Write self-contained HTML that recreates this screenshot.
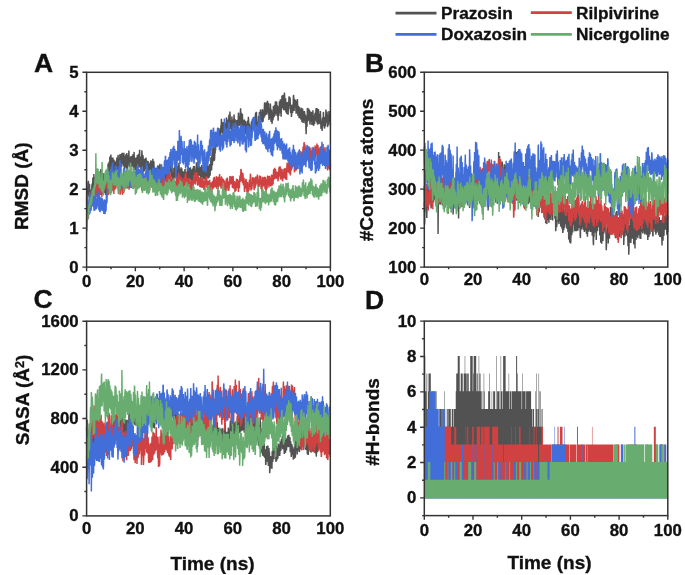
<!DOCTYPE html>
<html><head><meta charset="utf-8"><style>
html,body{margin:0;padding:0;background:#fff;width:685px;height:575px;overflow:hidden}
svg{display:block;filter:blur(0.4px)}
text{font-family:"Liberation Sans",sans-serif;font-weight:bold;fill:#111;stroke:#111;stroke-width:0.35px}
</style></head><body>
<svg width="685" height="575" viewBox="0 0 685 575">
<path transform="translate(86.60 0) scale(0.25005 0.1)" d="M0 1818l1 153 1 60 1 -122 1 -30 1 95 1 -17 1 -149 1 38 1 92 1 10 1 -108 1 9 1 119 1 14 1 -87 1 24 1 81 1 21 1 -90 1 44 1 -109 1 -30 1 120 1 -74 1 -106 1 17 1 117 1 -34 1 -135 1 63 1 132 1 2 1 -115 1 -47 1 164 1 -2 1 -82 1 -23 1 114 1 -10 1 -116 1 27 1 110 1 26 1 -131 1 17 1 93 1 -5 1 -89 1 37 1 -83 1 33 1 -103 1 -1 1 99 1 -1 1 -160 1 28 1 105 1 40 1 -137 1 77 1 134 1 6 1 -138 1 -48 1 119 1 15 1 -160 1 58 1 117 1 24 1 -85 1 -12 1 79 1 37 1 -129 1 -4 1 132 1 -69 1 -127 1 -9 1 89 1 -33 1 -115 1 -49 1 125 1 5 1 -129 1 -17 1 144 1 -99 1 -99 1 16 1 103 1 7 1 -146 1 38 1 169 1 -53 1 -119 1 -4 1 107 1 17 1 -125 1 37 1 68 1 34 1 -114 1 4 1 147 1 -2 1 -115 1 -15 1 142 1 -11 1 -115 1 -28 1 137 1 -53 1 -116 1 5 1 108 1 3 1 -116 1 -26 1 139 1 21 1 -117 1 -6 1 138 1 -56 1 -125 1 19 1 123 1 -43 1 -70 1 -32 1 106 1 23 1 -111 1 -29 1 100 1 10 1 -111 1 35 1 77 1 21 1 -134 1 51 1 93 1 30 1 -112 1 -29 1 114 1 -39 1 -93 1 13 1 101 1 29 1 -154 1 105 1 110 1 -62 1 -107 1 -27 1 96 1 -19 1 -122 1 64 1 90 1 9 1 -97 1 4 1 80 1 48 1 -127 1 -15 1 99 1 1 1 -71 1 -32 1 106 1 -22 1 -100 1 16 1 163 1 9 1 -165 1 -46 1 111 1 -57 1 127 1 -8 1 -113 1 29 1 74 1 26 1 -124 1 -9 1 141 1 -67 1 -100 1 17 1 69 1 -5 1 -84 1 -2 1 132 1 -42 1 -84 1 -53 1 135 1 40 1 -101 1 16 1 107 1 -6 1 -125 1 46 1 -106 1 58 1 93 1 12 1 -116 1 24 1 113 1 31 1 -130 1 27 1 98 1 -43 1 -76 1 -5 1 105 1 -17 1 -100 1 14 1 99 1 -5 1 -76 1 3 1 105 1 -6 1 -95 1 -6 1 93 1 54 1 -117 1 16 1 129 1 -12 1 -148 1 19 1 81 1 -21 1 -102 1 32 1 147 1 -59 1 -106 1 -6 1 94 1 22 1 -138 1 44 1 110 1 -43 1 -87 1 67 1 73 1 58 1 -132 1 32 1 87 1 -1 1 -118 1 66 1 122 1 -36 1 -103 1 -38 1 132 1 -37 1 -132 1 36 1 90 1 -10 1 -101 1 -10 1 60 1 35 1 -114 1 16 1 122 1 3 1 -80 1 11 1 75 1 17 1 -88 1 -16 1 114 1 -10 1 -120 1 23 1 94 1 -21 1 -101 1 25 1 106 1 -6 1 -101 1 -17 1 104 1 12 1 -127 1 8 1 103 1 -22 1 -102 1 17 1 117 1 9 1 -162 1 13 1 138 1 -12 1 -118 1 30 1 -85 1 12 1 107 1 -27 1 -100 1 1 1 92 1 -56 1 116 1 18 1 -106 1 24 1 96 1 16 1 -68 1 -1 1 78 1 -5 1 -126 1 8 1 93 1 -47 1 -60 1 -18 1 110 1 -5 1 -115 1 42 1 80 1 14 1 -85 1 -8 1 78 1 -22 1 -85 1 50 1 79 1 -40 1 -119 1 26 1 118 1 30 1 -104 1 -1 1 101 1 4 1 -114 1 -15 1 93 1 -8 1 -73 1 53 1 73 1 23 1 -97 1 -24 1 77 1 -11 1 -55 1 -5 1 83 1 -16 1 -93 1 2 1 115 1 13 1 -100 1 6 1 108 1 6 1 -84 1 33 1 -108 1 2 1 103 1 -31 1 -92 1 50 1 81 1 25 1 -141 1 11 1 95 1 -13 1 -101 1 42 1 79 1 8 1 -107 1 33 1 87 1 -16 1 -89 1 -24 1 136 1 -33 1 -108 1 -22 1 101 1 22 1 -122 1 28 1 78 1 17 1 -64 1 -12 1 81 1 -37 1 -128 1 43 1 95 1 -26 1 -112 1 24 1 89 1 25 1 -88 1 -43 1 115 1 10 1 -85 1 3 1 82 1 -1 1 -80 1 2 1 125 1 -38 1 -79 1 -35 1 119 1 8 1 -109 1 5 1 75 1 29 1 -84 1 17 1 85 1 -6 1 -119 1 -23 1 117 1 33 1 -148 1 10 1 122 1 -7 1 -94 1 -17 1 100 1 -1 1 -109 1 25 1 101 1 8 1 -124 1 -8 1 87 1 36 1 -98 1 -39 1 113 1 1 1 -100 1 50 1 -131 1 23 1 104 1 0 1 -130 1 -49 1 133 1 -84 1 -98 1 31 1 105 1 4 1 -140 1 42 1 92 1 -24 1 -88 1 40 1 -98 1 70 1 -148 1 -4 1 108 1 -2 1 -119 1 -21 1 86 1 3 1 -114 1 -18 1 119 1 0 1 -92 1 -5 1 134 1 6 1 -114 1 -44 1 138 1 -18 1 -147 1 41 1 -108 1 38 1 69 1 32 1 -96 1 -7 1 117 1 -9 1 -92 1 -18 1 98 1 2 1 -69 1 -17 1 103 1 2 1 -109 1 2 1 64 1 -18 1 -103 1 7 1 95 1 -36 1 80 1 -10 1 -82 1 -34 1 70 1 -15 1 -98 1 -4 1 86 1 24 1 -143 1 46 1 97 1 30 1 -86 1 28 1 72 1 34 1 -173 1 51 1 132 1 -8 1 -118 1 -26 1 121 1 -48 1 -78 1 -46 1 129 1 2 1 -84 1 13 1 87 1 17 1 -85 1 -17 1 163 1 -64 1 -105 1 39 1 90 1 10 1 -142 1 60 1 -124 1 -5 1 99 1 27 1 -67 1 -26 1 100 1 -12 1 -130 1 -37 1 104 1 51 1 -109 1 23 1 129 1 -19 1 -122 1 56 1 108 1 14 1 -81 1 -35 1 96 1 18 1 -120 1 22 1 70 1 42 1 -117 1 6 1 125 1 -4 1 -105 1 9 1 82 1 31 1 -129 1 -22 1 99 1 -7 1 -130 1 47 1 106 1 23 1 -107 1 17 1 102 1 15 1 -73 1 -23 1 58 1 -21 1 -88 1 -12 1 115 1 -26 1 -99 1 -12 1 96 1 -1 1 -99 1 -14 1 106 1 3 1 -87 1 -9 1 101 1 -25 1 -99 1 -35 1 118 1 -10 1 -117 1 58 1 91 1 46 1 -93 1 28 1 87 1 26 1 -137 1 -63 1 137 1 -54 1 -123 1 34 1 103 1 -33 1 -120 1 -8 1 105 1 8 1 -91 1 26 1 82 1 -34 1 -100 1 16 1 106 1 1 1 -103 1 -8 1 78 1 -38 1 -84 1 -36 1 140 1 -35 1 -84 1 -19 1 115 1 0 1 -119 1 25 1 101 1 -31 1 -104 1 -3 1 96 1 18 1 -93 1 12 1 151 1 4 1 -104 1 -12 1 99 1 -30 1 -116 1 55 1 105 1 23 1 -92 1 -31 1 124 1 19 1 -119 1 3 1 82 1 -21 1 -124 1 33 1 79 1 -7 1 -112 1 4 1 102 1 -55 1 -90 1 23 1 105 1 -29 1 -78 1 -18 1 104 1 39 1 -101 1 2 1 102 1 46 1 -131 1 -10 1 89 1 -37 1 -104 1 3 1 111 1 -44 1 -92 1 41 1 103 1 30 1 -120 1 23 1 -107 1 -6 1 79 1 45 1 -132 1 68 1 66 1 19 1 -115 1 55 1 -117 1 33 1 115 1 31 1 -107 1 -15 1 142 1 -28 1 -64 1 -12 1 121 1 -45 1 -75 1 13 1 75 1 39 1 -98 1 42 1 -106 1 -23 1 86 1 13 1 -88 1 11 1 110 1 35 1 -80 1 39 1 81 1 -19 1 -94 1 -11 1 80 1 -1 1 -68 1 24 1 -116 1 -17 1 129 1 33 1 -106 1 -17 1 86 1 -13 1 -58 1 11 1 83 1 42 1 -130 1 22 1 102 1 -6 1 -136 1 65 1 96 1 4 1 -97 1 18 1 84 1 21 1 -104 1 -8 1 107 1 7 1 -80 1 -10 1 103 1 -6 1 -108 1 1 1 132 1 5 1 -108 1 -27 1 109 1 36 1 -111 1 -8 1 98 1 -11 1 -87 1 21 1 87 1 15 1 -86 1 9 1 119 1 66 1 -140 1 -37 1 105 1 -58 1 -133 1 17 1 92 1 25 1 -107 1 -21 1 76 1 36 1 -99 1 23 1 124 1 -11 1 -104 1 -15 1 97 1 1 1 -90 1 4 1 124 1 -22 1 -74 1 34 1 -86 1 70 1 65 1 20 1 -88 1 -17 1 87 1 -6 1 -99 1 -5 1 77 1 -27 1 -74 1 -24 1 92 1 49 1 -133 1 -8 1 154 1 10 1 -86 1 66 1 -135 1 43 1 105 1 -6 1 -87 1 -3 1 86 1 7 1 -125 1 64 1 98 1 16 1 -85 1 14 1 56 1 36 1 -114 1 -19 1 86 1 -34 1 -110 1 48 1 75 1 -21 1 64 1 -7 1 -87 1 -19 1 92 1 -59 1 -109 1 45 1 85 1 -15 1 -96 1 19 1 112 1 25 1 -110 1 -8 1 98 1 -32 1 -100 1 -10 1 106 1 3 1 -82 1 30 1 89" stroke="#525252" stroke-width="1.45" vector-effect="non-scaling-stroke" fill="none" stroke-linejoin="bevel"/>
<path transform="translate(86.60 0) scale(0.25005 0.1)" d="M0 2015l1 100 1 29 1 -101 1 -8 1 90 1 -61 1 124 1 -64 1 -83 1 42 1 -99 1 59 1 -120 1 74 1 84 1 -4 1 -117 1 -7 1 120 1 -19 1 -104 1 -37 1 90 1 23 1 -123 1 32 1 129 1 -56 1 -118 1 -40 1 95 1 -21 1 -81 1 -8 1 105 1 -26 1 -97 1 -14 1 132 1 32 1 -107 1 -5 1 101 1 -28 1 -73 1 -8 1 71 1 18 1 -78 1 -17 1 90 1 24 1 -143 1 35 1 99 1 -4 1 -60 1 44 1 -105 1 23 1 125 1 -47 1 -99 1 34 1 91 1 -46 1 -73 1 -15 1 89 1 -17 1 -89 1 -16 1 111 1 -7 1 -71 1 -21 1 65 1 27 1 -63 1 -9 1 70 1 -20 1 68 1 5 1 -71 1 -10 1 97 1 -20 1 -78 1 -18 1 74 1 -42 1 -77 1 2 1 92 1 0 1 -64 1 34 1 -102 1 30 1 80 1 38 1 -86 1 7 1 79 1 9 1 -124 1 43 1 111 1 -70 1 -92 1 14 1 102 1 -4 1 -104 1 8 1 91 1 -32 1 -73 1 -29 1 74 1 21 1 -91 1 29 1 92 1 -8 1 61 1 8 1 -104 1 4 1 67 1 15 1 -81 1 -32 1 140 1 -59 1 -72 1 -1 1 69 1 21 1 -80 1 19 1 96 1 9 1 -84 1 -13 1 75 1 4 1 -94 1 -27 1 104 1 -25 1 -63 1 -22 1 78 1 -7 1 -97 1 12 1 86 1 -12 1 -71 1 2 1 87 1 -1 1 -72 1 13 1 -54 1 16 1 70 1 45 1 -97 1 5 1 71 1 -12 1 -53 1 -29 1 86 1 7 1 -103 1 3 1 91 1 -7 1 -67 1 -21 1 86 1 -20 1 -93 1 6 1 86 1 21 1 -100 1 43 1 70 1 7 1 -87 1 -28 1 81 1 -37 1 -42 1 16 1 71 1 10 1 -96 1 0 1 87 1 -54 1 -61 1 2 1 110 1 16 1 -95 1 18 1 75 1 -15 1 -85 1 27 1 73 1 -2 1 -63 1 10 1 98 1 -18 1 -75 1 -26 1 65 1 11 1 -73 1 -2 1 63 1 2 1 -81 1 -9 1 83 1 -8 1 -62 1 -18 1 85 1 4 1 -84 1 7 1 67 1 14 1 -66 1 -15 1 63 1 -28 1 -39 1 6 1 93 1 -34 1 71 1 3 1 -104 1 -25 1 80 1 -10 1 -93 1 3 1 87 1 -27 1 -78 1 35 1 62 1 0 1 -69 1 2 1 54 1 16 1 -63 1 1 1 65 1 10 1 -90 1 37 1 95 1 -5 1 -82 1 -3 1 87 1 -13 1 -80 1 -2 1 91 1 -31 1 -65 1 -13 1 58 1 -34 1 -58 1 -9 1 53 1 26 1 -95 1 34 1 86 1 -13 1 -56 1 -26 1 102 1 40 1 -97 1 30 1 69 1 -8 1 -82 1 -26 1 91 1 9 1 -118 1 28 1 58 1 31 1 -85 1 23 1 74 1 -34 1 -66 1 8 1 89 1 10 1 -110 1 -25 1 100 1 -9 1 -87 1 5 1 65 1 1 1 -81 1 -14 1 58 1 25 1 -101 1 24 1 87 1 21 1 -89 1 30 1 68 1 19 1 -82 1 7 1 61 1 12 1 -53 1 44 1 -92 1 33 1 59 1 44 1 -90 1 7 1 77 1 6 1 -77 1 -20 1 81 1 -39 1 -82 1 -5 1 52 1 33 1 -74 1 11 1 89 1 -45 1 -97 1 -11 1 104 1 11 1 -73 1 -17 1 89 1 -14 1 -59 1 5 1 78 1 -32 1 75 1 6 1 -110 1 10 1 89 1 39 1 -120 1 -16 1 116 1 6 1 -104 1 -31 1 78 1 -4 1 -65 1 -44 1 104 1 -25 1 -96 1 14 1 83 1 -36 1 80 1 -7 1 -72 1 12 1 71 1 -11 1 -67 1 -14 1 74 1 16 1 -58 1 -32 1 96 1 39 1 -104 1 3 1 103 1 -41 1 -56 1 -18 1 84 1 33 1 -121 1 5 1 68 1 24 1 -97 1 43 1 -89 1 13 1 61 1 1 1 -104 1 13 1 111 1 -27 1 -76 1 -10 1 76 1 -12 1 -77 1 36 1 67 1 35 1 -99 1 -6 1 95 1 2 1 -67 1 -14 1 67 1 -27 1 62 1 -26 1 -55 1 5 1 81 1 -20 1 -85 1 35 1 71 1 -10 1 -69 1 -17 1 92 1 -7 1 -53 1 -11 1 98 1 -32 1 -44 1 -16 1 88 1 -56 1 -64 1 13 1 64 1 -28 1 -59 1 2 1 110 1 -6 1 -66 1 17 1 80 1 -14 1 -82 1 12 1 62 1 28 1 -73 1 -39 1 106 1 -11 1 -59 1 -3 1 67 1 0 1 -75 1 28 1 75 1 -40 1 -50 1 -24 1 78 1 -5 1 -69 1 -38 1 92 1 0 1 -101 1 12 1 79 1 16 1 -71 1 9 1 57 1 -30 1 -77 1 9 1 117 1 -53 1 -62 1 7 1 64 1 47 1 -124 1 47 1 53 1 -37 1 -64 1 -26 1 109 1 1 1 -60 1 -8 1 89 1 15 1 -114 1 -7 1 69 1 27 1 -79 1 13 1 56 1 35 1 -97 1 34 1 54 1 19 1 -86 1 -7 1 86 1 30 1 -79 1 -17 1 87 1 -1 1 -125 1 14 1 57 1 21 1 -102 1 34 1 70 1 28 1 -77 1 -12 1 88 1 -34 1 -64 1 44 1 -93 1 28 1 58 1 -28 1 -50 1 3 1 48 1 23 1 -66 1 -11 1 117 1 -35 1 -64 1 -23 1 73 1 -22 1 63 1 15 1 -78 1 23 1 81 1 4 1 -69 1 -28 1 88 1 -27 1 -79 1 -16 1 66 1 30 1 -90 1 4 1 55 1 -51 1 118 1 -25 1 -58 1 -25 1 72 1 -62 1 -58 1 -8 1 61 1 -27 1 -99 1 5 1 80 1 38 1 -87 1 7 1 97 1 -4 1 -96 1 33 1 85 1 3 1 -75 1 29 1 98 1 16 1 -83 1 -30 1 73 1 6 1 -90 1 -5 1 73 1 -31 1 81 1 11 1 -73 1 -31 1 109 1 -12 1 -71 1 3 1 58 1 -22 1 -88 1 15 1 55 1 -47 1 -83 1 19 1 146 1 -1 1 -78 1 17 1 52 1 -38 1 -66 1 -18 1 55 1 17 1 -65 1 11 1 77 1 37 1 -119 1 11 1 84 1 1 1 -108 1 1 1 82 1 -23 1 -52 1 -12 1 67 1 -27 1 -62 1 22 1 73 1 26 1 -60 1 -7 1 65 1 6 1 -86 1 -28 1 62 1 28 1 -84 1 2 1 81 1 48 1 -96 1 13 1 112 1 -67 1 -85 1 9 1 74 1 13 1 -73 1 -19 1 85 1 -10 1 -80 1 3 1 98 1 22 1 -121 1 52 1 103 1 -18 1 -83 1 -33 1 99 1 -20 1 -97 1 -19 1 93 1 -5 1 -83 1 36 1 79 1 -46 1 -35 1 -37 1 95 1 2 1 -74 1 16 1 68 1 -24 1 -69 1 -25 1 78 1 34 1 -109 1 41 1 50 1 -3 1 -93 1 -50 1 105 1 -35 1 -62 1 -24 1 110 1 -32 1 -60 1 -3 1 76 1 19 1 -72 1 12 1 58 1 -11 1 -58 1 22 1 57 1 17 1 -79 1 31 1 -81 1 -13 1 96 1 -15 1 -83 1 -6 1 129 1 -3 1 -65 1 -38 1 89 1 19 1 -96 1 -6 1 111 1 9 1 -87 1 1 1 53 1 7 1 -98 1 13 1 83 1 -26 1 -78 1 13 1 68 1 33 1 -76 1 -33 1 87 1 27 1 -141 1 -33 1 96 1 -13 1 -72 1 6 1 84 1 -14 1 -83 1 -2 1 110 1 -17 1 -119 1 71 1 82 1 -46 1 -78 1 -3 1 78 1 -38 1 -70 1 -17 1 91 1 -47 1 -80 1 -3 1 126 1 -18 1 -58 1 22 1 105 1 4 1 -60 1 -25 1 71 1 -41 1 -80 1 9 1 109 1 -41 1 -95 1 13 1 66 1 -37 1 -80 1 13 1 72 1 19 1 -105 1 -16 1 70 1 7 1 -83 1 21 1 91 1 60 1 -129 1 12 1 122 1 -39 1 -101 1 -9 1 128 1 -76 1 -88 1 -35 1 87 1 7 1 -117 1 -22 1 109 1 8 1 -95 1 47 1 105 1 -8 1 -108 1 1 1 111 1 17 1 -120 1 -13 1 116 1 1 1 -83 1 -9 1 120 1 -56 1 -101 1 29 1 80 1 2 1 -84 1 -15 1 131 1 -16 1 -84 1 11 1 89 1 50 1 -147 1 -33 1 127 1 -11 1 -76 1 -15 1 98 1 -18 1 -90 1 -9 1 83 1 35 1 -104 1 -41 1 120 1 -39 1 -62 1 -6 1 80 1 -8 1 -103 1 37 1 100 1 -32 1 -89 1 21 1 91 1 16 1 -93 1 32 1 59 1 3 1 -108 1 7 1 90 1 1 1 -102 1 25 1 131 1 8 1 -62 1 -34 1 108 1 -71 1 -79 1 -56 1 148 1 33 1 -104 1 -23 1 112 1 -12 1 -121 1 14 1 120 1 0 1 -85 1 17 1 96 1 22 1 -94 1 8 1 133 1 -7 1 -101 1 -13 1 104 1 -20 1 -95 1 -31 1 119 1 43 1 -99 1 -26 1 98" stroke="#d04242" stroke-width="1.45" vector-effect="non-scaling-stroke" fill="none" stroke-linejoin="bevel"/>
<path transform="translate(86.60 0) scale(0.25005 0.1)" d="M0 1976l1 118 1 -41 1 -108 1 27 1 123 1 48 1 -112 1 -2 1 120 1 -18 1 -103 1 -70 1 179 1 -19 1 -160 1 -11 1 159 1 -7 1 -159 1 -36 1 145 1 -10 1 -100 1 3 1 120 1 -6 1 -85 1 -13 1 119 1 33 1 -144 1 -10 1 148 1 -61 1 -73 1 -34 1 137 1 22 1 -108 1 7 1 90 1 -20 1 -82 1 -75 1 151 1 -9 1 -135 1 22 1 166 1 -45 1 -109 1 36 1 137 1 -6 1 -83 1 -59 1 130 1 2 1 -95 1 -34 1 125 1 -10 1 -107 1 26 1 103 1 -22 1 -85 1 42 1 91 1 -14 1 -131 1 38 1 97 1 11 1 -127 1 -13 1 115 1 -21 1 -133 1 -30 1 103 1 -50 1 -98 1 36 1 -193 1 -9 1 119 1 31 1 -78 1 59 1 -142 1 27 1 101 1 0 1 -110 1 -22 1 102 1 -31 1 -84 1 -26 1 132 1 -12 1 -122 1 -39 1 122 1 32 1 -64 1 -10 1 106 1 21 1 -105 1 5 1 94 1 32 1 -197 1 90 1 53 1 3 1 -126 1 -21 1 122 1 -37 1 88 1 4 1 -128 1 44 1 67 1 0 1 -131 1 -22 1 145 1 -79 1 -133 1 16 1 85 1 14 1 -86 1 67 1 92 1 -61 1 133 1 5 1 -93 1 -8 1 114 1 -13 1 -74 1 57 1 -164 1 -2 1 131 1 21 1 -118 1 1 1 122 1 16 1 -92 1 -41 1 118 1 -19 1 -86 1 -45 1 107 1 45 1 -136 1 29 1 86 1 38 1 -101 1 17 1 91 1 18 1 -143 1 23 1 80 1 -7 1 -108 1 43 1 107 1 -22 1 -93 1 -33 1 128 1 8 1 -148 1 23 1 97 1 12 1 -134 1 33 1 80 1 -21 1 -82 1 -8 1 96 1 -8 1 -98 1 6 1 77 1 2 1 -100 1 -32 1 134 1 -46 1 -90 1 11 1 114 1 26 1 -100 1 -20 1 111 1 27 1 -123 1 -13 1 144 1 -29 1 -70 1 -43 1 100 1 10 1 -96 1 -42 1 192 1 -63 1 -83 1 1 1 90 1 -47 1 127 1 17 1 -93 1 46 1 -100 1 -23 1 90 1 -37 1 -76 1 54 1 -123 1 -12 1 111 1 31 1 -112 1 22 1 86 1 35 1 -91 1 14 1 108 1 -22 1 -74 1 -5 1 95 1 -29 1 -78 1 -19 1 152 1 -11 1 -115 1 -3 1 107 1 -6 1 -83 1 -61 1 157 1 -41 1 -69 1 -39 1 104 1 -6 1 -120 1 46 1 82 1 32 1 -92 1 10 1 83 1 -35 1 -107 1 -3 1 114 1 25 1 -156 1 36 1 110 1 -1 1 -117 1 36 1 78 1 -4 1 -113 1 47 1 123 1 -22 1 -102 1 -34 1 89 1 9 1 -115 1 -42 1 110 1 15 1 -79 1 -21 1 121 1 -26 1 -81 1 0 1 149 1 -63 1 -143 1 -20 1 143 1 -36 1 -147 1 -5 1 159 1 24 1 -90 1 -53 1 153 1 -4 1 -98 1 57 1 -115 1 39 1 105 1 -4 1 -162 1 22 1 142 1 -10 1 -176 1 -27 1 121 1 18 1 -170 1 9 1 111 1 78 1 -167 1 -2 1 159 1 -62 1 -140 1 19 1 101 1 4 1 -142 1 36 1 140 1 20 1 -164 1 34 1 158 1 -99 1 202 1 -63 1 -184 1 -31 1 188 1 -75 1 -105 1 95 1 -202 1 28 1 155 1 -16 1 -105 1 136 1 -306 1 130 1 208 1 -4 1 -148 1 58 1 -136 1 -50 1 150 1 42 1 -141 1 25 1 193 1 -12 1 -131 1 49 1 111 1 -12 1 -121 1 -101 1 207 1 -13 1 -123 1 9 1 148 1 47 1 -201 1 35 1 149 1 -69 1 -137 1 55 1 109 1 -76 1 155 1 -14 1 -140 1 -98 1 200 1 -74 1 -182 1 56 1 163 1 -23 1 -152 1 -50 1 153 1 9 1 -149 1 102 1 115 1 -31 1 -143 1 6 1 124 1 -12 1 -117 1 23 1 165 1 -15 1 -211 1 9 1 172 1 -33 1 -134 1 16 1 140 1 -12 1 -108 1 4 1 118 1 18 1 -146 1 -108 1 322 1 -74 1 -152 1 73 1 163 1 -52 1 -85 1 -37 1 104 1 30 1 -165 1 -66 1 139 1 5 1 -145 1 46 1 109 1 53 1 -165 1 89 1 96 1 79 1 -199 1 -4 1 189 1 -36 1 -134 1 -37 1 210 1 10 1 -137 1 15 1 136 1 -26 1 -177 1 36 1 98 1 -21 1 -123 1 12 1 122 1 -29 1 -163 1 67 1 90 1 -41 1 -114 1 -61 1 132 1 32 1 -177 1 -84 1 203 1 16 1 -179 1 -44 1 160 1 9 1 -142 1 35 1 118 1 -37 1 -156 1 -4 1 143 1 58 1 -156 1 49 1 113 1 -36 1 -114 1 -19 1 112 1 -5 1 -84 1 -15 1 81 1 67 1 -165 1 -28 1 146 1 38 1 -168 1 31 1 107 1 -48 1 116 1 -13 1 -133 1 4 1 158 1 -75 1 -89 1 -6 1 100 1 14 1 -115 1 3 1 155 1 -24 1 -124 1 -25 1 154 1 -29 1 -147 1 68 1 -191 1 66 1 158 1 -7 1 -115 1 -10 1 115 1 53 1 -140 1 43 1 127 1 -53 1 -114 1 -25 1 136 1 -43 1 -95 1 -65 1 165 1 -3 1 -149 1 79 1 116 1 39 1 -155 1 3 1 127 1 12 1 -113 1 -38 1 107 1 -11 1 -120 1 -7 1 142 1 -8 1 -171 1 67 1 97 1 35 1 -140 1 32 1 85 1 3 1 -187 1 22 1 128 1 -11 1 -108 1 53 1 99 1 6 1 -103 1 -24 1 149 1 -19 1 -145 1 2 1 99 1 22 1 -110 1 36 1 144 1 -36 1 -130 1 -45 1 134 1 16 1 -91 1 -31 1 114 1 50 1 -192 1 47 1 146 1 -20 1 -151 1 -9 1 153 1 -27 1 -98 1 -39 1 167 1 -68 1 143 1 9 1 -142 1 46 1 115 1 -70 1 -152 1 -48 1 131 1 -5 1 -102 1 -23 1 131 1 87 1 -204 1 25 1 115 1 -18 1 -100 1 -23 1 182 1 9 1 -155 1 28 1 121 1 -75 1 -78 1 77 1 -175 1 -14 1 130 1 -20 1 -119 1 -8 1 105 1 23 1 -135 1 41 1 178 1 25 1 -90 1 -25 1 101 1 0 1 -134 1 1 1 128 1 -11 1 -113 1 35 1 92 1 -38 1 -130 1 6 1 120 1 -37 1 -130 1 -50 1 173 1 31 1 -92 1 -48 1 142 1 34 1 -138 1 65 1 106 1 15 1 -131 1 13 1 138 1 -19 1 -135 1 57 1 94 1 -3 1 -119 1 -4 1 119 1 31 1 -110 1 -5 1 143 1 -33 1 -130 1 54 1 94 1 22 1 -121 1 -4 1 150 1 -67 1 -113 1 16 1 127 1 -30 1 -118 1 -31 1 142 1 -57 1 133 1 -16 1 -97 1 -22 1 162 1 -68 1 -104 1 32 1 133 1 19 1 -130 1 -69 1 142 1 -12 1 -141 1 -20 1 105 1 -18 1 -107 1 -9 1 115 1 5 1 -152 1 47 1 84 1 52 1 -155 1 67 1 133 1 -42 1 -116 1 -32 1 166 1 -59 1 -102 1 23 1 93 1 -49 1 100 1 25 1 -87 1 -31 1 96 1 4 1 -98 1 -9 1 121 1 32 1 -106 1 -20 1 164 1 21 1 -159 1 28 1 131 1 -43 1 -118 1 37 1 122 1 -16 1 -127 1 50 1 96 1 -3 1 -118 1 -40 1 142 1 5 1 -76 1 -9 1 118 1 -20 1 -94 1 -14 1 149 1 -52 1 -95 1 -16 1 117 1 60 1 -132 1 30 1 98 1 23 1 -122 1 32 1 109 1 -47 1 -147 1 31 1 98 1 -24 1 -151 1 53 1 132 1 -53 1 -86 1 36 1 160 1 -59 1 -113 1 29 1 84 1 38 1 -93 1 -25 1 129 1 3 1 -158 1 32 1 132 1 -5 1 -123 1 -53 1 135 1 -2 1 -149 1 62 1 190 1 -35 1 -122 1 -28 1 159 1 -17 1 -186 1 37 1 124 1 58 1 -177 1 11 1 96 1 -65 1 -85 1 43 1 94 1 -16 1 -136 1 16 1 138 1 -43 1 -86 1 -37 1 185 1 -54 1 -71 1 59 1 -149 1 -6 1 110 1 -4 1 -81 1 -14 1 127 1 -73 1 150 1 16 1 -128 1 20 1 87 1 26 1 -96 1 4 1 114 1 -16 1 -100 1 15 1 92 1 1 1 -144 1 42 1 -88 1 -43 1 112 1 28 1 -119 1 0 1 112 1 45 1 -99 1 68 1 120 1 -7 1 -95 1 -16 1 96 1 -21 1 -107 1 -31 1 133 1 -21 1 -115 1 -9 1 94 1 73 1 -152 1 41 1 84 1 6 1 -137 1 -23 1 114 1 -53 1 -123 1 0 1 66 1 31 1 -145 1 70 1 121 1 51 1 -123 1 -31 1 142 1 -18 1 -107 1 -10 1 120 1 27 1 -109 1 -36 1 165 1 9 1 -123 1 -45 1 145 1 -16 1 -164 1 -19 1 113 1 82 1 -187 1 -27 1 142 1 64 1 -155 1 24 1 124 1 -10 1 -143 1 73 1 94" stroke="#416ed9" stroke-width="1.45" vector-effect="non-scaling-stroke" fill="none" stroke-linejoin="bevel"/>
<path transform="translate(86.60 0) scale(0.25005 0.1)" d="M0 2195l1 117 1 -77 1 -66 1 -19 1 48 1 -43 1 -67 1 -32 1 89 1 -60 1 -51 1 -13 1 58 1 -12 1 -80 1 -15 1 79 1 0 1 -75 1 -31 1 78 1 -39 1 -66 1 -23 1 68 1 -12 1 -68 1 -2 1 70 1 -20 1 -72 1 38 1 -89 1 -21 1 83 1 -16 1 -321 1 235 1 55 1 11 1 -126 1 -25 1 98 1 41 1 -111 1 -24 1 121 1 37 1 -115 1 -19 1 167 1 -17 1 -141 1 31 1 137 1 -12 1 -98 1 -7 1 134 1 0 1 -154 1 -132 1 286 1 20 1 -121 1 17 1 134 1 -51 1 -65 1 55 1 -118 1 -39 1 123 1 -13 1 -130 1 -11 1 130 1 -24 1 -119 1 9 1 114 1 -15 1 -109 1 -21 1 101 1 -58 1 174 1 -31 1 -105 1 45 1 140 1 -5 1 -122 1 22 1 60 1 61 1 -146 1 -9 1 133 1 -20 1 -116 1 48 1 -110 1 -11 1 84 1 12 1 -76 1 8 1 102 1 -15 1 -86 1 -20 1 127 1 -23 1 -127 1 22 1 116 1 0 1 -111 1 -29 1 124 1 33 1 -92 1 6 1 103 1 10 1 -113 1 14 1 111 1 42 1 -117 1 -43 1 88 1 27 1 -110 1 -48 1 115 1 -31 1 -95 1 -33 1 139 1 5 1 -85 1 -21 1 116 1 15 1 -107 1 22 1 137 1 -30 1 -127 1 -44 1 129 1 11 1 -154 1 87 1 100 1 -12 1 -125 1 -42 1 101 1 1 1 -117 1 -9 1 174 1 4 1 -119 1 -44 1 120 1 -14 1 -97 1 -15 1 107 1 -13 1 -162 1 4 1 99 1 -61 1 165 1 19 1 -139 1 3 1 141 1 30 1 -141 1 39 1 106 1 -80 1 -138 1 64 1 104 1 -3 1 -106 1 40 1 173 1 -37 1 -141 1 36 1 127 1 -20 1 -80 1 63 1 -144 1 2 1 139 1 -49 1 -99 1 0 1 141 1 -28 1 -67 1 -54 1 140 1 -26 1 -80 1 -36 1 120 1 -16 1 -85 1 28 1 97 1 -51 1 104 1 -14 1 -117 1 -16 1 108 1 15 1 -119 1 3 1 90 1 28 1 -130 1 12 1 107 1 -38 1 -86 1 19 1 89 1 52 1 -116 1 -6 1 111 1 1 1 -92 1 12 1 101 1 -28 1 -118 1 9 1 121 1 -43 1 -150 1 -38 1 110 1 44 1 -103 1 53 1 77 1 -11 1 -118 1 9 1 79 1 -31 1 119 1 -49 1 -89 1 11 1 119 1 3 1 -89 1 -30 1 112 1 -48 1 95 1 -8 1 -109 1 -20 1 104 1 16 1 -91 1 3 1 94 1 6 1 -90 1 -44 1 90 1 -1 1 -118 1 0 1 112 1 -2 1 -66 1 -8 1 115 1 -25 1 -76 1 -10 1 106 1 25 1 -110 1 33 1 85 1 1 1 -107 1 16 1 92 1 26 1 -89 1 33 1 -84 1 -3 1 79 1 -48 1 -75 1 52 1 73 1 1 1 -112 1 16 1 108 1 0 1 -130 1 4 1 108 1 -23 1 -70 1 28 1 -67 1 -12 1 98 1 4 1 -83 1 26 1 60 1 16 1 -71 1 -10 1 66 1 38 1 -103 1 -13 1 100 1 3 1 -118 1 -8 1 117 1 -4 1 -115 1 7 1 88 1 36 1 -95 1 3 1 101 1 25 1 -84 1 28 1 109 1 -30 1 -110 1 22 1 118 1 -54 1 -96 1 8 1 60 1 35 1 -126 1 11 1 80 1 -6 1 -93 1 -30 1 144 1 -56 1 -74 1 37 1 52 1 26 1 -109 1 29 1 128 1 -27 1 -86 1 6 1 80 1 16 1 -99 1 34 1 82 1 -15 1 -102 1 23 1 77 1 -4 1 -109 1 -25 1 90 1 1 1 -100 1 60 1 152 1 -36 1 -81 1 -21 1 83 1 30 1 -165 1 38 1 109 1 19 1 -100 1 -19 1 64 1 28 1 -80 1 22 1 74 1 12 1 -95 1 4 1 92 1 -47 1 -76 1 -33 1 107 1 33 1 -126 1 79 1 71 1 -2 1 -121 1 30 1 91 1 -12 1 -65 1 -37 1 92 1 8 1 -107 1 5 1 91 1 -27 1 -69 1 16 1 106 1 -35 1 -78 1 22 1 78 1 18 1 -118 1 -4 1 104 1 25 1 -106 1 0 1 99 1 15 1 -121 1 18 1 94 1 21 1 -120 1 -6 1 98 1 -7 1 -80 1 12 1 68 1 -4 1 -119 1 -7 1 129 1 -35 1 -90 1 34 1 80 1 11 1 -85 1 45 1 87 1 -9 1 -158 1 -37 1 119 1 -30 1 -92 1 6 1 111 1 27 1 -92 1 15 1 90 1 12 1 -88 1 37 1 -93 1 17 1 104 1 37 1 -107 1 7 1 105 1 24 1 -102 1 -13 1 79 1 10 1 -79 1 31 1 124 1 -34 1 -74 1 -39 1 96 1 -13 1 -78 1 -7 1 66 1 -14 1 -80 1 24 1 -93 1 54 1 86 1 -27 1 -82 1 20 1 106 1 -35 1 71 1 -20 1 -93 1 23 1 71 1 14 1 -87 1 -9 1 102 1 -30 1 -107 1 -43 1 108 1 -25 1 -138 1 90 1 61 1 0 1 -69 1 -10 1 88 1 -50 1 112 1 -19 1 -116 1 24 1 74 1 10 1 -70 1 18 1 93 1 -35 1 -76 1 8 1 76 1 -4 1 -85 1 13 1 75 1 21 1 -63 1 -54 1 153 1 -29 1 -80 1 -32 1 118 1 -5 1 -97 1 -1 1 125 1 -58 1 -71 1 -35 1 108 1 3 1 -117 1 50 1 88 1 12 1 -120 1 53 1 72 1 23 1 -82 1 -5 1 93 1 -30 1 -98 1 -18 1 131 1 -21 1 -81 1 -11 1 84 1 15 1 -85 1 -35 1 94 1 26 1 -116 1 38 1 56 1 27 1 -80 1 7 1 51 1 19 1 -87 1 22 1 71 1 28 1 -134 1 29 1 114 1 -39 1 -77 1 -11 1 77 1 37 1 -96 1 -3 1 79 1 22 1 -123 1 -24 1 67 1 -10 1 -95 1 10 1 106 1 -10 1 -80 1 -22 1 109 1 18 1 -119 1 -6 1 95 1 -18 1 -66 1 11 1 105 1 1 1 -115 1 8 1 119 1 -7 1 -75 1 -39 1 95 1 -11 1 -73 1 7 1 55 1 2 1 -99 1 -5 1 103 1 -11 1 -76 1 -2 1 101 1 35 1 -79 1 -26 1 96 1 -13 1 -69 1 -59 1 146 1 -86 1 -80 1 -37 1 97 1 -38 1 91 1 -21 1 98 1 -14 1 -96 1 55 1 67 1 3 1 -125 1 1 1 95 1 -51 1 -85 1 -49 1 134 1 -21 1 -101 1 -7 1 102 1 23 1 -87 1 -12 1 87 1 15 1 -114 1 27 1 104 1 -51 1 -85 1 4 1 118 1 -12 1 -77 1 2 1 77 1 -2 1 -75 1 13 1 70 1 31 1 -96 1 -3 1 67 1 3 1 -86 1 1 1 76 1 -14 1 -94 1 -19 1 127 1 -46 1 -95 1 9 1 88 1 13 1 -74 1 14 1 97 1 -27 1 -91 1 57 1 64 1 28 1 -96 1 -40 1 139 1 -19 1 -83 1 -27 1 91 1 5 1 -98 1 -9 1 89 1 13 1 -107 1 -22 1 67 1 24 1 -94 1 -34 1 103 1 8 1 -76 1 -26 1 76 1 35 1 -136 1 43 1 91 1 -19 1 -85 1 -3 1 83 1 -3 1 -84 1 -21 1 131 1 9 1 -112 1 28 1 108 1 21 1 -91 1 -27 1 65 1 -22 1 -112 1 -4 1 115 1 -16 1 -91 1 -5 1 71 1 13 1 -83 1 -10 1 116 1 20 1 -80 1 9 1 72 1 14 1 -69 1 -10 1 74 1 43 1 -98 1 -23 1 95 1 -6 1 -89 1 -9 1 73 1 22 1 -119 1 -9 1 105 1 -35 1 80 1 10 1 -83 1 -19 1 66 1 -22 1 -100 1 10 1 95 1 21 1 -112 1 12 1 92 1 -18 1 -78 1 -1 1 110 1 -33 1 -74 1 -23 1 89 1 22 1 -104 1 -5 1 108 1 -12 1 -71 1 -2 1 85 1 1 1 -72 1 -4 1 64 1 -30 1 -97 1 -1 1 93 1 -9 1 -115 1 74 1 51 1 45 1 -116 1 6 1 87 1 49 1 -109 1 -60 1 141 1 0 1 -73 1 8 1 87 1 -29 1 -75 1 -20 1 66 1 24 1 -96 1 -21 1 94 1 0 1 -112 1 72 1 53 1 -16 1 -63 1 6 1 -86 1 26 1 83 1 16 1 -110 1 58 1 98 1 -18 1 -76 1 -3 1 94 1 22 1 -74 1 -26 1 104 1 -16 1 -97 1 8 1 81 1 -12 1 -103 1 56 1 81 1 -8 1 -91 1 -5 1 99 1 -2 1 -79 1 7 1 65 1 38 1 -96 1 -20 1 65 1 21 1 -107 1 -9 1 91 1 15 1 -103 1 -22 1 85 1 45 1 -117 1 -2 1 74 1 13 1 -104 1 -29 1 99 1 -4 1 -53 1 -18 1 104 1 -25 1 -95 1 28 1 93 1 -12 1 -75 1 6 1 87 1 8 1 -76 1 62 1 -132 1 0 1 73 1 -18 1 -83 1 10 1 87 1 19 1 -108 1 57 1 82 1 14 1 -74" stroke="#69ac6f" stroke-width="1.45" vector-effect="non-scaling-stroke" fill="none" stroke-linejoin="bevel"/>
<path transform="translate(424.30 0) scale(0.25026 0.1)" d="M0 1858l1 205 1 -17 1 -148 1 2 1 133 1 -35 1 -140 1 54 1 192 1 76 1 -233 1 -71 1 207 1 -118 1 -111 1 -23 1 108 1 55 1 -196 1 81 1 146 1 -74 1 -220 1 130 1 139 1 -83 1 168 1 -36 1 -197 1 -31 1 109 1 -65 1 162 1 -19 1 -168 1 31 1 150 1 -38 1 -165 1 -79 1 245 1 13 1 -196 1 39 1 149 1 -69 1 -109 1 -41 1 181 1 -61 1 -141 1 31 1 153 1 -160 1 567 1 -345 1 -188 1 27 1 167 1 43 1 -199 1 44 1 156 1 -9 1 -251 1 42 1 190 1 -29 1 -159 1 -1 1 194 1 32 1 -190 1 -29 1 211 1 -24 1 -194 1 -18 1 195 1 66 1 -151 1 7 1 143 1 -48 1 -157 1 -38 1 174 1 -39 1 -134 1 -79 1 302 1 -45 1 -132 1 48 1 215 1 -155 1 -132 1 -33 1 175 1 20 1 -200 1 47 1 191 1 37 1 -202 1 44 1 162 1 -56 1 -136 1 10 1 166 1 -97 1 -137 1 59 1 244 1 -64 1 -141 1 -53 1 118 1 65 1 -268 1 30 1 202 1 -106 1 -110 1 4 1 127 1 78 1 -170 1 -8 1 209 1 -4 1 -186 1 18 1 193 1 -60 1 167 1 -184 1 -136 1 5 1 213 1 -21 1 -177 1 -39 1 158 1 4 1 -155 1 -11 1 107 1 16 1 -124 1 -27 1 112 1 -14 1 -170 1 47 1 188 1 -76 1 -105 1 -1 1 207 1 42 1 -151 1 -72 1 215 1 -61 1 -164 1 65 1 129 1 -40 1 -147 1 -17 1 188 1 -102 1 -132 1 -9 1 211 1 19 1 -169 1 87 1 186 1 -20 1 -190 1 75 1 -164 1 0 1 146 1 -60 1 139 1 -48 1 -186 1 112 1 158 1 14 1 -142 1 -97 1 231 1 -12 1 -186 1 -16 1 226 1 -62 1 -185 1 -30 1 125 1 16 1 -174 1 28 1 161 1 -2 1 -183 1 -12 1 170 1 8 1 -170 1 46 1 131 1 66 1 -211 1 92 1 129 1 32 1 -156 1 47 1 86 1 2 1 -175 1 84 1 152 1 -35 1 -201 1 -11 1 151 1 76 1 -209 1 31 1 172 1 21 1 -222 1 76 1 -260 1 127 1 161 1 40 1 -207 1 -7 1 181 1 7 1 -222 1 -4 1 188 1 63 1 -209 1 85 1 237 1 -81 1 -149 1 -74 1 198 1 -2 1 -165 1 -3 1 183 1 -9 1 -195 1 31 1 185 1 47 1 -218 1 -121 1 274 1 -41 1 -181 1 -78 1 214 1 0 1 -133 1 28 1 144 1 -55 1 -106 1 -39 1 202 1 1 1 -195 1 3 1 172 1 56 1 -181 1 -9 1 165 1 66 1 -208 1 -24 1 155 1 -42 1 -398 1 227 1 170 1 -99 1 -259 1 91 1 158 1 -45 1 189 1 -121 1 -143 1 -62 1 220 1 -68 1 -164 1 21 1 196 1 42 1 -172 1 60 1 178 1 5 1 -267 1 -35 1 208 1 2 1 -168 1 -32 1 197 1 -6 1 -137 1 -16 1 148 1 -5 1 -181 1 23 1 212 1 24 1 -245 1 127 1 197 1 -29 1 -167 1 -11 1 131 1 1 1 -189 1 9 1 178 1 42 1 -133 1 -19 1 206 1 -26 1 -181 1 44 1 151 1 39 1 -233 1 10 1 158 1 41 1 -246 1 72 1 264 1 -153 1 -143 1 0 1 175 1 -31 1 -208 1 -222 1 471 1 15 1 -187 1 169 1 -448 1 240 1 215 1 -75 1 -115 1 -50 1 187 1 12 1 -172 1 30 1 124 1 -30 1 -151 1 -68 1 211 1 73 1 -220 1 -115 1 257 1 -28 1 -140 1 7 1 150 1 -55 1 -164 1 37 1 131 1 63 1 -215 1 -19 1 289 1 -32 1 -185 1 133 1 153 1 -54 1 -204 1 -22 1 243 1 37 1 -173 1 17 1 179 1 -84 1 -175 1 34 1 210 1 -48 1 -101 1 77 1 -194 1 32 1 154 1 2 1 -184 1 -59 1 175 1 -48 1 129 1 78 1 -195 1 -47 1 265 1 -7 1 -155 1 -57 1 177 1 -7 1 -182 1 -3 1 182 1 -55 1 -182 1 31 1 186 1 101 1 -209 1 51 1 145 1 56 1 -237 1 38 1 234 1 -57 1 -211 1 28 1 192 1 -47 1 -198 1 8 1 168 1 -41 1 -106 1 19 1 155 1 -49 1 -128 1 -46 1 176 1 82 1 -184 1 34 1 137 1 -56 1 -140 1 63 1 -166 1 90 1 234 1 67 1 -153 1 -24 1 215 1 -54 1 -161 1 -53 1 229 1 48 1 -200 1 -31 1 191 1 -73 1 -114 1 39 1 124 1 51 1 -195 1 -38 1 191 1 -41 1 -158 1 -35 1 190 1 57 1 -181 1 -6 1 113 1 28 1 -140 1 -127 1 319 1 -137 1 -161 1 34 1 168 1 -35 1 -153 1 11 1 202 1 53 1 -173 1 78 1 220 1 -27 1 -134 1 -63 1 182 1 -37 1 -221 1 -2 1 171 1 34 1 -183 1 9 1 166 1 34 1 -217 1 -21 1 179 1 32 1 -170 1 9 1 212 1 -11 1 -215 1 17 1 184 1 48 1 -126 1 -84 1 251 1 -8 1 -237 1 34 1 184 1 -41 1 -117 1 -27 1 160 1 -79 1 -238 1 117 1 156 1 6 1 -186 1 50 1 150 1 34 1 -193 1 -34 1 208 1 52 1 -192 1 101 1 165 1 -6 1 -186 1 20 1 204 1 -41 1 -175 1 17 1 209 1 -80 1 -198 1 16 1 178 1 -39 1 -167 1 -35 1 215 1 -107 1 -148 1 27 1 150 1 -28 1 -171 1 51 1 213 1 -28 1 -145 1 -30 1 154 1 47 1 -146 1 14 1 134 1 -53 1 -209 1 21 1 219 1 14 1 -150 1 7 1 93 1 23 1 -188 1 -10 1 173 1 -78 1 185 1 20 1 -328 1 12 1 230 1 -10 1 -195 1 15 1 168 1 -44 1 -87 1 1 1 155 1 -18 1 -123 1 5 1 145 1 13 1 -162 1 -45 1 184 1 9 1 -220 1 57 1 122 1 77 1 -202 1 -10 1 208 1 31 1 -204 1 -59 1 213 1 -36 1 -172 1 49 1 145 1 -18 1 -140 1 41 1 132 1 -18 1 -123 1 -53 1 187 1 3 1 -202 1 62 1 182 1 -12 1 -145 1 24 1 191 1 37 1 -159 1 77 1 -162 1 -66 1 181 1 -3 1 -179 1 -40 1 156 1 -116 1 259 1 -93 1 -238 1 14 1 223 1 4 1 -139 1 88 1 -245 1 36 1 207 1 13 1 -207 1 98 1 186 1 6 1 -150 1 76 1 149 1 -36 1 -198 1 72 1 172 1 -109 1 -161 1 8 1 204 1 31 1 -187 1 -29 1 142 1 -22 1 -129 1 -69 1 194 1 -49 1 -203 1 48 1 213 1 2 1 181 1 -56 1 -154 1 5 1 89 1 -18 1 -149 1 -65 1 280 1 -96 1 -158 1 22 1 174 1 8 1 -153 1 108 1 -220 1 -50 1 173 1 40 1 -194 1 -26 1 239 1 -23 1 -171 1 -4 1 129 1 -33 1 -128 1 55 1 202 1 -28 1 -128 1 -13 1 120 1 -60 1 137 1 26 1 -215 1 -46 1 110 1 40 1 -161 1 14 1 199 1 13 1 -134 1 17 1 116 1 60 1 -196 1 -27 1 150 1 48 1 -214 1 10 1 149 1 5 1 -134 1 4 1 186 1 -39 1 -159 1 0 1 130 1 37 1 -203 1 -5 1 178 1 -97 1 230 1 -72 1 -123 1 -83 1 186 1 8 1 -162 1 -11 1 131 1 3 1 -182 1 86 1 125 1 -14 1 -151 1 35 1 136 1 102 1 -209 1 39 1 254 1 -66 1 -199 1 -34 1 175 1 -14 1 -132 1 -97 1 249 1 -38 1 -217 1 40 1 -132 1 53 1 180 1 73 1 -178 1 -58 1 167 1 -114 1 238 1 -4 1 -234 1 -24 1 168 1 137 1 -304 1 37 1 157 1 23 1 -160 1 5 1 126 1 -43 1 -145 1 42 1 159 1 -79 1 -171 1 52 1 166 1 -41 1 -108 1 -26 1 159 1 53 1 -201 1 23 1 180 1 -102 1 -143 1 -48 1 176 1 45 1 -136 1 -35 1 184 1 1 1 -167 1 -41 1 149 1 40 1 -215 1 94 1 141 1 11 1 -149 1 -32 1 168 1 -25 1 -134 1 -3 1 169 1 10 1 -157 1 23 1 185 1 -56 1 -158 1 41 1 143 1 -20 1 -132 1 -39 1 145 1 20 1 -183 1 -28 1 160 1 -22 1 -165 1 -13 1 201 1 -53 1 -114 1 50 1 181 1 5 1 -212 1 -38 1 171 1 5 1 -138 1 -43 1 178 1 33 1 -165 1 53 1 140 1 -39 1 -194 1 24 1 189 1 -19 1 -175 1 -28 1 206 1 -3 1 -104 1 -14 1 163 1 -34 1 -149 1 80 1 121 1 -27 1 -142 1 28 1 129 1 14 1 -173 1 17 1 160 1 78 1 -246 1 -36 1 157 1 79 1 -209 1 53 1 108 1 -25 1 -152 1 -25 1 136 1 -6 1 -129 1 -62 1 150 1 49 1 -185 1 69 1 149 1 22 1 -135 1 -58 1 161" stroke="#525252" stroke-width="1.45" vector-effect="non-scaling-stroke" fill="none" stroke-linejoin="bevel"/>
<path transform="translate(424.30 0) scale(0.25026 0.1)" d="M0 2026l1 220 1 -39 1 -156 1 68 1 -164 1 -50 1 157 1 -9 1 -145 1 -68 1 186 1 31 1 -120 1 21 1 148 1 -8 1 -185 1 9 1 133 1 -65 1 -169 1 -15 1 132 1 45 1 -184 1 36 1 217 1 -49 1 -113 1 39 1 -114 1 12 1 142 1 124 1 -247 1 89 1 -223 1 39 1 159 1 -11 1 -158 1 -5 1 158 1 34 1 -173 1 -20 1 117 1 45 1 -199 1 36 1 130 1 64 1 -171 1 5 1 172 1 56 1 -129 1 -78 1 255 1 -83 1 -131 1 -1 1 177 1 29 1 -194 1 -59 1 209 1 -62 1 -142 1 41 1 204 1 -33 1 -191 1 -29 1 172 1 -58 1 -102 1 -46 1 126 1 -16 1 -121 1 -34 1 135 1 70 1 -188 1 82 1 169 1 -40 1 -96 1 -21 1 116 1 17 1 -131 1 -27 1 197 1 -24 1 -119 1 5 1 145 1 8 1 -183 1 54 1 105 1 16 1 -156 1 -10 1 141 1 36 1 -179 1 18 1 144 1 38 1 -155 1 50 1 137 1 -65 1 -123 1 -61 1 165 1 6 1 -161 1 -29 1 158 1 57 1 -166 1 72 1 -183 1 92 1 101 1 52 1 -189 1 49 1 122 1 1 1 -115 1 -9 1 194 1 -90 1 -143 1 44 1 186 1 -75 1 -156 1 18 1 144 1 106 1 -248 1 10 1 191 1 68 1 -173 1 -46 1 216 1 -8 1 -195 1 -20 1 194 1 -72 1 -158 1 -24 1 168 1 12 1 -259 1 66 1 142 1 -41 1 -100 1 -64 1 160 1 64 1 -185 1 48 1 179 1 -82 1 -150 1 -7 1 191 1 9 1 -121 1 0 1 139 1 48 1 -212 1 26 1 137 1 32 1 -165 1 17 1 123 1 -36 1 -131 1 -6 1 161 1 47 1 -129 1 -49 1 154 1 -28 1 -161 1 -36 1 143 1 58 1 -146 1 -13 1 163 1 -20 1 -140 1 5 1 118 1 15 1 -172 1 -8 1 116 1 1 1 -113 1 31 1 162 1 -22 1 -167 1 -41 1 161 1 -80 1 -128 1 35 1 97 1 48 1 -132 1 -21 1 91 1 8 1 -101 1 -10 1 76 1 12 1 -93 1 11 1 146 1 -13 1 -91 1 -12 1 102 1 21 1 -114 1 -39 1 138 1 -22 1 -148 1 6 1 138 1 -45 1 -143 1 0 1 96 1 29 1 -110 1 -23 1 107 1 -9 1 -101 1 -14 1 90 1 -55 1 143 1 9 1 -94 1 -45 1 146 1 38 1 -90 1 -74 1 164 1 -80 1 -72 1 -32 1 143 1 -21 1 -93 1 -17 1 78 1 8 1 -128 1 42 1 85 1 38 1 -89 1 1 1 114 1 -32 1 -101 1 -31 1 137 1 -19 1 -85 1 3 1 119 1 -77 1 -122 1 -9 1 108 1 -15 1 -78 1 33 1 97 1 40 1 -174 1 65 1 133 1 -19 1 -103 1 52 1 120 1 -44 1 -83 1 -35 1 188 1 -44 1 -132 1 59 1 120 1 73 1 -177 1 -7 1 125 1 33 1 -173 1 23 1 114 1 80 1 -228 1 89 1 111 1 70 1 -165 1 1 1 186 1 -86 1 -157 1 73 1 147 1 4 1 -86 1 -82 1 188 1 -101 1 -133 1 41 1 -183 1 4 1 199 1 31 1 -138 1 45 1 157 1 84 1 -204 1 151 1 200 1 -33 1 -163 1 -56 1 181 1 -71 1 -224 1 46 1 111 1 -32 1 -144 1 45 1 123 1 29 1 -172 1 24 1 145 1 -22 1 -147 1 1 1 195 1 -10 1 -95 1 -52 1 168 1 3 1 -141 1 -77 1 176 1 19 1 -186 1 33 1 167 1 5 1 -201 1 22 1 161 1 17 1 -147 1 -12 1 146 1 66 1 -234 1 105 1 145 1 -18 1 -161 1 30 1 104 1 -27 1 -134 1 -66 1 198 1 -32 1 -126 1 0 1 126 1 -13 1 -218 1 32 1 141 1 28 1 -109 1 -50 1 153 1 21 1 -131 1 17 1 195 1 -6 1 -152 1 -12 1 156 1 -24 1 -111 1 35 1 105 1 -29 1 -129 1 31 1 113 1 26 1 -120 1 -44 1 157 1 22 1 -159 1 -24 1 166 1 6 1 -102 1 19 1 149 1 29 1 -126 1 -33 1 158 1 -35 1 -139 1 -19 1 129 1 33 1 -163 1 -55 1 149 1 -25 1 -185 1 83 1 104 1 30 1 -134 1 42 1 157 1 4 1 -148 1 -13 1 161 1 -20 1 -138 1 -28 1 172 1 59 1 -155 1 -4 1 130 1 -25 1 -118 1 44 1 111 1 61 1 -150 1 59 1 -154 1 -30 1 157 1 12 1 -149 1 -11 1 150 1 17 1 -163 1 58 1 126 1 -65 1 -105 1 19 1 125 1 35 1 -219 1 103 1 86 1 -24 1 -119 1 16 1 152 1 -11 1 -114 1 -19 1 132 1 -9 1 -137 1 -27 1 110 1 -2 1 -154 1 40 1 108 1 64 1 -137 1 19 1 91 1 32 1 -106 1 -31 1 176 1 4 1 -166 1 -24 1 120 1 -7 1 -94 1 -14 1 139 1 -4 1 -168 1 -56 1 185 1 36 1 -174 1 25 1 -113 1 5 1 160 1 -37 1 81 1 58 1 -123 1 -56 1 151 1 -48 1 -139 1 25 1 138 1 1 1 -153 1 85 1 136 1 15 1 -155 1 -10 1 112 1 55 1 -170 1 39 1 97 1 -30 1 -132 1 1 1 160 1 -72 1 152 1 10 1 -131 1 -31 1 113 1 -82 1 182 1 -30 1 -104 1 -42 1 167 1 -48 1 -164 1 71 1 101 1 1 1 -191 1 0 1 93 1 12 1 -106 1 -27 1 104 1 84 1 -177 1 8 1 190 1 -19 1 -193 1 59 1 117 1 11 1 -208 1 54 1 92 1 -53 1 -134 1 0 1 139 1 59 1 -195 1 59 1 136 1 -48 1 170 1 -6 1 -164 1 -16 1 159 1 -75 1 -119 1 23 1 118 1 -22 1 -141 1 27 1 134 1 -8 1 -119 1 22 1 101 1 32 1 -113 1 -64 1 206 1 -89 1 -175 1 58 1 134 1 -83 1 184 1 25 1 -179 1 -35 1 118 1 38 1 -211 1 71 1 94 1 30 1 -132 1 14 1 148 1 -42 1 -166 1 -20 1 72 1 41 1 -153 1 -7 1 173 1 45 1 -179 1 59 1 153 1 11 1 -172 1 22 1 180 1 -6 1 -209 1 -2 1 232 1 -121 1 -114 1 24 1 132 1 -35 1 -151 1 -45 1 149 1 -115 1 266 1 -43 1 -182 1 -35 1 159 1 65 1 -175 1 31 1 -153 1 69 1 175 1 18 1 -152 1 22 1 125 1 38 1 -156 1 -70 1 157 1 35 1 -134 1 39 1 121 1 -54 1 157 1 -42 1 -153 1 -12 1 160 1 2 1 -194 1 -44 1 138 1 68 1 -167 1 29 1 136 1 90 1 -257 1 16 1 144 1 5 1 -141 1 -21 1 195 1 2 1 -189 1 91 1 119 1 43 1 -141 1 -71 1 201 1 -37 1 -118 1 41 1 116 1 23 1 -184 1 90 1 -180 1 25 1 197 1 50 1 -134 1 -52 1 154 1 13 1 -162 1 26 1 156 1 -15 1 -173 1 -9 1 142 1 68 1 -199 1 27 1 160 1 30 1 -220 1 -10 1 183 1 65 1 -163 1 -19 1 213 1 -85 1 -163 1 -9 1 154 1 -4 1 -193 1 -18 1 172 1 15 1 -170 1 59 1 196 1 -37 1 -201 1 -38 1 163 1 77 1 -159 1 9 1 91 1 24 1 -125 1 90 1 -214 1 7 1 160 1 -21 1 -140 1 26 1 150 1 -7 1 -127 1 -23 1 211 1 -36 1 -155 1 0 1 224 1 -111 1 -176 1 -31 1 218 1 15 1 -207 1 -66 1 171 1 43 1 -185 1 -41 1 180 1 30 1 -137 1 4 1 148 1 3 1 -144 1 -12 1 165 1 11 1 -184 1 79 1 160 1 8 1 -160 1 4 1 172 1 -32 1 -184 1 71 1 121 1 44 1 -171 1 -73 1 150 1 -69 1 162 1 -4 1 -167 1 1 1 137 1 12 1 -187 1 -17 1 209 1 -24 1 -199 1 -8 1 159 1 40 1 -283 1 35 1 79 1 -16 1 193 1 24 1 -255 1 6 1 196 1 -19 1 -240 1 24 1 181 1 12 1 -122 1 -84 1 207 1 -37 1 -153 1 -48 1 259 1 7 1 -203 1 -2 1 172 1 58 1 -168 1 -17 1 211 1 -43 1 -135 1 -95 1 200 1 -16 1 -151 1 67 1 124 1 -2 1 -174 1 -40 1 214 1 70 1 -181 1 3 1 202 1 -97 1 -144 1 -75 1 173 1 11 1 -155 1 -38 1 144 1 61 1 -160 1 -44 1 193 1 -25 1 -116 1 21 1 171 1 -41 1 -236 1 -35 1 232 1 9 1 -177 1 82 1 120 1 39 1 -171 1 -49 1 149 1 -35 1 -154 1 -55 1 174 1 31 1 -137 1 -4 1 172 1 -34 1 -107 1 -14 1 147 1 -4 1 -186 1 51 1 222 1 -29 1 -160 1 19 1 172 1 -117 1 -110 1 -25 1 149 1 -4 1 -122 1 3 1 163 1 -43 1 -152 1 -7 1 161 1 12 1 -141 1 72 1 129" stroke="#d04242" stroke-width="1.45" vector-effect="non-scaling-stroke" fill="none" stroke-linejoin="bevel"/>
<path transform="translate(424.30 0) scale(0.25026 0.1)" d="M0 1468l1 197 1 111 1 -278 1 57 1 183 1 138 1 -380 1 0 1 232 1 26 1 -232 1 90 1 221 1 -40 1 -389 1 155 1 240 1 102 1 -308 1 -100 1 355 1 -77 1 -227 1 -64 1 183 1 -25 1 -202 1 32 1 225 1 161 1 -430 1 94 1 286 1 89 1 -235 1 -110 1 322 1 20 1 -237 1 -132 1 310 1 -7 1 -309 1 65 1 244 1 -3 1 -225 1 -30 1 269 1 -90 1 -176 1 -27 1 308 1 70 1 -289 1 12 1 241 1 -116 1 -215 1 -2 1 252 1 60 1 -331 1 26 1 321 1 -34 1 -314 1 -6 1 250 1 -64 1 -225 1 -38 1 238 1 65 1 -289 1 128 1 254 1 35 1 -206 1 -11 1 173 1 -32 1 -256 1 22 1 277 1 124 1 -371 1 90 1 254 1 72 1 -311 1 -81 1 334 1 -50 1 -295 1 -129 1 368 1 -141 1 -268 1 13 1 369 1 -57 1 -269 1 51 1 251 1 20 1 -283 1 102 1 232 1 94 1 -270 1 -3 1 304 1 91 1 -533 1 235 1 220 1 -51 1 -180 1 42 1 259 1 -43 1 -221 1 10 1 249 1 13 1 -287 1 -161 1 358 1 -28 1 -504 1 182 1 259 1 100 1 -331 1 28 1 275 1 -32 1 -211 1 -8 1 254 1 -84 1 -310 1 -9 1 217 1 64 1 -302 1 24 1 215 1 99 1 -275 1 96 1 192 1 110 1 -266 1 65 1 157 1 -59 1 -244 1 64 1 287 1 -86 1 -308 1 -82 1 346 1 47 1 -296 1 64 1 263 1 53 1 -332 1 53 1 311 1 -31 1 -325 1 -37 1 256 1 8 1 -226 1 120 1 -327 1 75 1 388 1 35 1 -335 1 129 1 192 1 13 1 -257 1 41 1 438 1 -61 1 -248 1 -155 1 337 1 -48 1 -301 1 -124 1 355 1 -172 1 -274 1 70 1 252 1 -77 1 -349 1 148 1 233 1 -54 1 -318 1 88 1 249 1 -69 1 -198 1 124 1 160 1 0 1 -228 1 15 1 342 1 65 1 -276 1 -12 1 343 1 1 1 -298 1 17 1 235 1 5 1 -211 1 -9 1 305 1 -90 1 -221 1 -60 1 152 1 110 1 -343 1 75 1 148 1 55 1 -324 1 33 1 183 1 46 1 -199 1 -4 1 324 1 24 1 -279 1 100 1 177 1 92 1 -259 1 -63 1 279 1 31 1 -298 1 -22 1 138 1 -26 1 160 1 -63 1 -191 1 -31 1 198 1 -46 1 -183 1 -102 1 275 1 4 1 -206 1 78 1 190 1 56 1 -323 1 112 1 164 1 -4 1 -222 1 -108 1 261 1 63 1 -205 1 45 1 252 1 -140 1 -245 1 87 1 195 1 84 1 -267 1 -30 1 326 1 -153 1 -179 1 -60 1 203 1 14 1 -165 1 62 1 175 1 79 1 -205 1 13 1 195 1 -120 1 -131 1 10 1 178 1 30 1 -205 1 -96 1 227 1 179 1 -416 1 156 1 231 1 15 1 -340 1 34 1 200 1 -15 1 -231 1 -32 1 252 1 -79 1 -255 1 87 1 238 1 44 1 -248 1 -99 1 257 1 82 1 -337 1 31 1 210 1 60 1 -273 1 -49 1 228 1 -18 1 -224 1 90 1 240 1 7 1 -288 1 -62 1 311 1 104 1 -258 1 -56 1 330 1 -56 1 -312 1 -21 1 303 1 -213 1 -202 1 6 1 297 1 2 1 -395 1 187 1 309 1 17 1 -356 1 -40 1 380 1 27 1 -229 1 128 1 -337 1 20 1 291 1 -34 1 -284 1 -11 1 250 1 60 1 -265 1 -47 1 323 1 -77 1 -221 1 39 1 200 1 109 1 -330 1 90 1 239 1 -170 1 352 1 -108 1 -219 1 -97 1 297 1 119 1 -365 1 91 1 231 1 -25 1 -236 1 148 1 -346 1 56 1 313 1 -7 1 -301 1 -109 1 332 1 -30 1 -276 1 -56 1 294 1 -37 1 -270 1 5 1 234 1 87 1 -283 1 77 1 273 1 86 1 -328 1 38 1 183 1 14 1 -271 1 32 1 266 1 31 1 -286 1 -67 1 312 1 75 1 -387 1 89 1 293 1 -46 1 -321 1 -5 1 332 1 86 1 -288 1 40 1 253 1 120 1 -366 1 111 1 244 1 -96 1 -303 1 86 1 -289 1 -29 1 304 1 -134 1 274 1 -5 1 -286 1 67 1 147 1 39 1 -284 1 -154 1 483 1 -148 1 -312 1 116 1 322 1 5 1 -355 1 -30 1 298 1 -35 1 -285 1 114 1 335 1 -29 1 -250 1 -14 1 192 1 3 1 -288 1 154 1 170 1 17 1 -200 1 -85 1 273 1 28 1 -194 1 23 1 213 1 15 1 -277 1 7 1 162 1 -2 1 -152 1 -118 1 258 1 18 1 -169 1 84 1 -172 1 -38 1 237 1 12 1 -190 1 12 1 190 1 -24 1 -178 1 12 1 170 1 12 1 -191 1 12 1 140 1 50 1 -201 1 22 1 120 1 18 1 -235 1 15 1 106 1 67 1 -222 1 45 1 256 1 50 1 -239 1 74 1 169 1 47 1 -182 1 -20 1 217 1 -112 1 -208 1 53 1 188 1 -44 1 -153 1 -73 1 215 1 40 1 -182 1 -25 1 186 1 -10 1 -224 1 98 1 138 1 -91 1 -176 1 49 1 191 1 -24 1 -149 1 58 1 104 1 43 1 -161 1 -54 1 161 1 56 1 -138 1 60 1 -165 1 -5 1 227 1 32 1 -206 1 -82 1 168 1 -52 1 193 1 1 1 -193 1 58 1 130 1 13 1 -216 1 -45 1 153 1 -68 1 -146 1 29 1 189 1 9 1 -267 1 99 1 165 1 9 1 -129 1 -17 1 129 1 20 1 -110 1 -9 1 165 1 -8 1 -110 1 -34 1 175 1 23 1 -178 1 -3 1 166 1 112 1 -267 1 -26 1 148 1 -75 1 -161 1 48 1 96 1 53 1 -165 1 65 1 123 1 -3 1 -215 1 -56 1 176 1 -39 1 -205 1 82 1 128 1 -11 1 -155 1 1 1 155 1 64 1 -160 1 23 1 190 1 -27 1 -100 1 -60 1 169 1 60 1 -183 1 26 1 123 1 64 1 -178 1 8 1 156 1 58 1 -248 1 -68 1 192 1 -8 1 -153 1 -82 1 184 1 -9 1 -128 1 -32 1 164 1 -1 1 -129 1 43 1 102 1 -57 1 126 1 21 1 -176 1 -44 1 202 1 80 1 -213 1 28 1 123 1 33 1 -126 1 -112 1 229 1 -45 1 -225 1 60 1 198 1 54 1 -145 1 -35 1 141 1 20 1 -166 1 109 1 136 1 30 1 -234 1 79 1 -174 1 6 1 202 1 -55 1 -253 1 9 1 225 1 41 1 -184 1 4 1 228 1 59 1 -230 1 59 1 139 1 0 1 -251 1 -3 1 222 1 43 1 -203 1 -29 1 155 1 94 1 -271 1 59 1 248 1 -60 1 -243 1 119 1 155 1 -48 1 -142 1 62 1 -207 1 18 1 222 1 136 1 -295 1 78 1 281 1 -9 1 -263 1 95 1 189 1 -24 1 -277 1 -14 1 243 1 99 1 -224 1 110 1 195 1 7 1 -268 1 62 1 231 1 -98 1 -187 1 10 1 221 1 -68 1 -290 1 -46 1 222 1 -18 1 -147 1 -82 1 285 1 -11 1 -280 1 55 1 293 1 58 1 -190 1 4 1 248 1 -113 1 -243 1 16 1 330 1 -14 1 -236 1 92 1 -226 1 47 1 226 1 30 1 -253 1 -86 1 190 1 -53 1 -128 1 -85 1 225 1 -4 1 -221 1 -12 1 241 1 38 1 -172 1 -50 1 215 1 9 1 -186 1 -101 1 302 1 7 1 -256 1 -9 1 233 1 -19 1 -219 1 -7 1 310 1 -94 1 -211 1 106 1 244 1 43 1 -320 1 128 1 223 1 29 1 -204 1 19 1 202 1 -35 1 -149 1 -25 1 197 1 46 1 -274 1 -72 1 184 1 21 1 -226 1 -29 1 282 1 -12 1 -229 1 -138 1 313 1 -37 1 -297 1 52 1 304 1 -84 1 -183 1 -26 1 241 1 44 1 -254 1 13 1 157 1 -48 1 -214 1 71 1 196 1 115 1 -264 1 30 1 192 1 -32 1 -233 1 105 1 182 1 -101 1 -166 1 24 1 242 1 -202 1 -132 1 -55 1 220 1 -63 1 -123 1 17 1 121 1 -11 1 -164 1 27 1 157 1 19 1 -189 1 -41 1 177 1 -43 1 -218 1 23 1 152 1 25 1 -192 1 -48 1 158 1 16 1 -181 1 83 1 158 1 -8 1 -146 1 25 1 154 1 -31 1 -95 1 -12 1 151 1 -5 1 -116 1 27 1 -132 1 31 1 133 1 53 1 -143 1 6 1 193 1 60 1 -167 1 -79 1 164 1 -37 1 -143 1 -7 1 122 1 29 1 -115 1 -21 1 131 1 33 1 -128 1 -67 1 180 1 13 1 -183 1 -37 1 179 1 -21 1 -143 1 30 1 140 1 21 1 -170 1 -15 1 177 1 -18 1 -136 1 -10 1 144 1 78 1 -184 1 -55 1 153 1 45 1 -137 1 -32 1 183 1 -65 1 -158 1 97 1 174 1 -76 1 -186 1 55 1 147 1 -10 1 -171 1 47 1 164 1 -6 1 -162 1 29 1 145 1 -68 1 -134" stroke="#416ed9" stroke-width="1.45" vector-effect="non-scaling-stroke" fill="none" stroke-linejoin="bevel"/>
<path transform="translate(424.30 0) scale(0.25026 0.1)" d="M0 1500l1 125 1 -6 1 -188 1 73 1 194 1 -30 1 -160 1 -16 1 223 1 96 1 -282 1 76 1 188 1 2 1 -216 1 33 1 182 1 70 1 -183 1 26 1 194 1 -132 1 -192 1 35 1 151 1 13 1 -158 1 44 1 160 1 64 1 -199 1 73 1 244 1 -48 1 -188 1 -74 1 204 1 24 1 -168 1 37 1 165 1 -47 1 -112 1 46 1 204 1 18 1 -159 1 37 1 182 1 -112 1 -194 1 22 1 133 1 74 1 -182 1 -53 1 168 1 -25 1 -191 1 15 1 128 1 -73 1 185 1 -35 1 -142 1 -11 1 150 1 -12 1 -130 1 -12 1 155 1 51 1 -157 1 -1 1 121 1 96 1 -212 1 61 1 149 1 31 1 -199 1 42 1 114 1 -50 1 -178 1 22 1 133 1 42 1 -182 1 23 1 220 1 26 1 -254 1 -27 1 184 1 85 1 -183 1 -54 1 196 1 -63 1 -105 1 -32 1 189 1 -25 1 -139 1 20 1 196 1 2 1 -264 1 25 1 193 1 -45 1 -211 1 -41 1 255 1 -49 1 -194 1 -23 1 273 1 4 1 -153 1 15 1 178 1 -8 1 -159 1 63 1 95 1 63 1 -166 1 -18 1 158 1 -104 1 -161 1 -40 1 155 1 68 1 -194 1 64 1 136 1 35 1 -165 1 3 1 170 1 -102 1 -131 1 -23 1 126 1 68 1 -143 1 20 1 162 1 -18 1 -178 1 32 1 216 1 -76 1 -95 1 -48 1 178 1 7 1 -179 1 -40 1 165 1 18 1 -123 1 -67 1 139 1 7 1 -176 1 53 1 137 1 -37 1 -157 1 29 1 174 1 -7 1 -126 1 -46 1 223 1 -62 1 -202 1 -35 1 267 1 -29 1 -134 1 -21 1 202 1 -23 1 -190 1 -14 1 185 1 -78 1 -165 1 -19 1 140 1 65 1 -216 1 55 1 202 1 -47 1 215 1 -67 1 -219 1 -28 1 261 1 -21 1 -257 1 50 1 221 1 -14 1 -207 1 -10 1 177 1 -60 1 -131 1 -13 1 167 1 -55 1 -147 1 56 1 139 1 14 1 -171 1 70 1 140 1 -56 1 -146 1 27 1 128 1 -31 1 132 1 34 1 -204 1 71 1 189 1 -112 1 -158 1 -42 1 165 1 -40 1 -135 1 4 1 186 1 -29 1 -160 1 52 1 -121 1 -25 1 201 1 -96 1 -143 1 -19 1 120 1 41 1 -98 1 -13 1 109 1 62 1 -230 1 110 1 188 1 49 1 -204 1 -49 1 165 1 -3 1 -192 1 17 1 175 1 99 1 -282 1 185 1 181 1 -42 1 -285 1 57 1 131 1 35 1 -235 1 -9 1 182 1 -16 1 -231 1 65 1 166 1 1 1 -137 1 -32 1 178 1 36 1 -165 1 -76 1 215 1 0 1 -135 1 -12 1 145 1 -75 1 202 1 -115 1 -130 1 1 1 169 1 -45 1 -141 1 -45 1 192 1 -24 1 -186 1 15 1 204 1 -6 1 -138 1 -37 1 191 1 5 1 -177 1 4 1 197 1 -118 1 -118 1 -57 1 199 1 60 1 -169 1 -76 1 162 1 -48 1 -125 1 -41 1 183 1 34 1 -133 1 -18 1 231 1 -7 1 -204 1 24 1 176 1 16 1 -152 1 62 1 169 1 -47 1 -186 1 20 1 140 1 -24 1 -148 1 -50 1 157 1 35 1 -155 1 -7 1 127 1 -52 1 -126 1 39 1 115 1 -25 1 -139 1 -33 1 116 1 4 1 -142 1 57 1 147 1 57 1 -191 1 11 1 119 1 69 1 -154 1 61 1 194 1 -75 1 -152 1 -17 1 166 1 -63 1 -190 1 17 1 142 1 -119 1 259 1 -54 1 -160 1 71 1 103 1 15 1 -161 1 17 1 121 1 18 1 -178 1 37 1 155 1 -10 1 -102 1 -53 1 173 1 10 1 -207 1 41 1 161 1 49 1 -219 1 1 1 191 1 -52 1 -125 1 -49 1 168 1 -21 1 -175 1 -15 1 154 1 -63 1 -214 1 3 1 202 1 56 1 -160 1 68 1 169 1 63 1 -180 1 55 1 130 1 99 1 -222 1 -7 1 136 1 -75 1 -105 1 -7 1 115 1 21 1 -153 1 13 1 127 1 35 1 -257 1 42 1 202 1 -39 1 -141 1 -66 1 231 1 -88 1 189 1 -41 1 -144 1 -51 1 137 1 -6 1 -141 1 -26 1 207 1 -94 1 -183 1 -14 1 173 1 46 1 -165 1 -61 1 204 1 3 1 -194 1 -72 1 185 1 53 1 -189 1 -17 1 155 1 48 1 -142 1 28 1 153 1 -4 1 -178 1 -43 1 185 1 -11 1 -189 1 25 1 174 1 98 1 -252 1 51 1 168 1 12 1 -142 1 -65 1 221 1 -31 1 -248 1 22 1 256 1 -97 1 -157 1 -34 1 171 1 -17 1 -180 1 -12 1 160 1 24 1 -199 1 4 1 262 1 59 1 -253 1 37 1 128 1 -88 1 248 1 32 1 -141 1 2 1 165 1 -28 1 -269 1 26 1 206 1 67 1 -246 1 -4 1 138 1 -88 1 237 1 -148 1 -170 1 -7 1 138 1 -12 1 -207 1 2 1 173 1 82 1 -182 1 -56 1 211 1 -37 1 -193 1 -46 1 266 1 -22 1 -233 1 53 1 149 1 -24 1 -158 1 51 1 -177 1 90 1 282 1 7 1 -184 1 -9 1 205 1 -68 1 -217 1 18 1 159 1 -35 1 -182 1 18 1 159 1 43 1 -197 1 -3 1 180 1 11 1 -253 1 90 1 180 1 66 1 -135 1 -30 1 173 1 18 1 -196 1 12 1 184 1 -18 1 -104 1 -24 1 152 1 38 1 -189 1 -71 1 216 1 -7 1 -196 1 -6 1 192 1 53 1 -259 1 -71 1 226 1 16 1 -175 1 -22 1 175 1 -6 1 -218 1 -21 1 149 1 16 1 -163 1 38 1 197 1 -50 1 -125 1 -7 1 155 1 -43 1 -217 1 15 1 168 1 83 1 -173 1 62 1 185 1 -31 1 -183 1 -59 1 262 1 -91 1 -163 1 -21 1 145 1 22 1 -183 1 46 1 262 1 -43 1 -176 1 -40 1 249 1 -11 1 -245 1 -36 1 189 1 31 1 -155 1 -39 1 230 1 30 1 -217 1 -8 1 170 1 137 1 -281 1 15 1 139 1 -15 1 -180 1 -19 1 236 1 -19 1 -199 1 -2 1 177 1 27 1 -203 1 67 1 191 1 27 1 -195 1 59 1 181 1 4 1 -188 1 72 1 -157 1 -13 1 170 1 -45 1 -168 1 47 1 238 1 -105 1 -183 1 1 1 141 1 -34 1 -160 1 -23 1 220 1 -96 1 -246 1 107 1 207 1 62 1 -216 1 -24 1 246 1 1 1 -199 1 102 1 117 1 45 1 -173 1 -69 1 198 1 23 1 -203 1 106 1 -247 1 -13 1 240 1 -1 1 -156 1 -33 1 227 1 -103 1 -179 1 65 1 200 1 65 1 -242 1 50 1 283 1 -157 1 -124 1 -36 1 234 1 -16 1 -195 1 -45 1 229 1 -45 1 -230 1 10 1 154 1 95 1 -237 1 105 1 156 1 -16 1 -222 1 -18 1 161 1 87 1 -231 1 79 1 188 1 -76 1 182 1 -35 1 -170 1 63 1 119 1 90 1 -236 1 1 1 145 1 64 1 -139 1 82 1 -190 1 -89 1 232 1 -37 1 -210 1 -63 1 188 1 94 1 -276 1 173 1 162 1 -66 1 -187 1 -18 1 207 1 -8 1 -131 1 -53 1 248 1 -21 1 -185 1 -22 1 201 1 102 1 -237 1 91 1 -214 1 15 1 197 1 -23 1 -146 1 -97 1 212 1 16 1 -197 1 -89 1 258 1 17 1 -169 1 -85 1 234 1 -104 1 227 1 -27 1 -193 1 -55 1 220 1 -27 1 -131 1 -22 1 228 1 -116 1 -168 1 -48 1 158 1 55 1 -209 1 61 1 91 1 -64 1 173 1 35 1 -220 1 54 1 154 1 -42 1 -150 1 -68 1 196 1 -43 1 -184 1 16 1 247 1 -50 1 -165 1 7 1 215 1 74 1 -246 1 75 1 188 1 -59 1 -232 1 -8 1 141 1 -95 1 197 1 -71 1 -227 1 -126 1 275 1 5 1 -208 1 100 1 210 1 -140 1 -233 1 112 1 156 1 25 1 -199 1 71 1 267 1 -27 1 -167 1 -31 1 187 1 7 1 -187 1 20 1 249 1 -50 1 -262 1 -7 1 188 1 5 1 -162 1 5 1 203 1 95 1 -234 1 49 1 217 1 -84 1 -239 1 -43 1 188 1 -9 1 -227 1 -36 1 224 1 -13 1 -123 1 -9 1 294 1 -38 1 -173 1 -36 1 228 1 -56 1 -170 1 -7 1 150 1 12 1 -144 1 10 1 210 1 -34 1 -155 1 -8 1 241 1 -60 1 -154 1 -10 1 168 1 -70 1 -210 1 62 1 194 1 -9 1 -151 1 88 1 229 1 33 1 -151 1 72 1 -240 1 -51 1 274 1 -25 1 -186 1 32 1 182 1 -16 1 -195 1 -93 1 196 1 13 1 -197 1 11 1 208 1 0 1 -129 1 1 1 174 1 -60 1 -141 1 -17 1 201 1 -8 1 -203 1 11 1 214 1 -51 1 -215 1 -25 1 125 1 1 1 -223 1 72 1 241 1 65 1 -275 1 -50 1 272 1 40 1 -274 1 -58 1 251 1 3 1 -213" stroke="#69ac6f" stroke-width="1.45" vector-effect="non-scaling-stroke" fill="none" stroke-linejoin="bevel"/>
<path transform="translate(86.60 0) scale(0.25046 0.1)" d="M0 4267l1 112 1 -51 1 167 1 12 1 -114 1 7 1 150 1 14 1 -90 1 -62 1 155 1 -29 1 -165 1 -72 1 166 1 -37 1 -124 1 15 1 145 1 -45 1 -130 1 12 1 91 1 43 1 -126 1 -30 1 101 1 39 1 -119 1 43 1 175 1 -31 1 -158 1 -76 1 214 1 42 1 -166 1 -20 1 144 1 4 1 -222 1 -43 1 175 1 -1 1 -172 1 58 1 122 1 2 1 -161 1 -22 1 143 1 -73 1 149 1 62 1 -198 1 11 1 169 1 36 1 -213 1 49 1 120 1 -15 1 -153 1 -53 1 153 1 -26 1 -133 1 28 1 98 1 82 1 -183 1 5 1 165 1 -8 1 -148 1 33 1 122 1 -32 1 -104 1 -51 1 138 1 4 1 -169 1 69 1 127 1 6 1 -131 1 -51 1 160 1 35 1 -151 1 -54 1 176 1 76 1 -204 1 48 1 162 1 7 1 -104 1 -38 1 109 1 -36 1 -141 1 -40 1 148 1 26 1 -185 1 -10 1 92 1 17 1 -125 1 1 1 123 1 -37 1 99 1 16 1 -187 1 -18 1 163 1 -9 1 -79 1 -2 1 123 1 53 1 -149 1 -70 1 182 1 -26 1 -150 1 43 1 149 1 -122 1 -114 1 -13 1 163 1 -15 1 -141 1 -12 1 134 1 -16 1 -116 1 -33 1 148 1 -7 1 -139 1 6 1 127 1 46 1 -173 1 80 1 103 1 -6 1 -137 1 25 1 161 1 -46 1 -79 1 -57 1 144 1 -19 1 -96 1 -28 1 127 1 45 1 -131 1 -18 1 137 1 -71 1 -129 1 -53 1 182 1 -17 1 -158 1 52 1 132 1 10 1 -126 1 -14 1 113 1 -8 1 -82 1 -99 1 210 1 -81 1 -158 1 21 1 140 1 3 1 -151 1 39 1 105 1 30 1 -178 1 27 1 158 1 -57 1 -133 1 49 1 113 1 31 1 -130 1 -35 1 138 1 34 1 -175 1 82 1 93 1 -26 1 -154 1 50 1 150 1 -4 1 -110 1 -31 1 133 1 26 1 -168 1 27 1 132 1 12 1 -124 1 -40 1 146 1 -22 1 -153 1 7 1 139 1 -24 1 -147 1 -13 1 148 1 -46 1 -112 1 30 1 156 1 32 1 -118 1 -33 1 120 1 4 1 -168 1 28 1 96 1 -1 1 -156 1 -8 1 136 1 6 1 -105 1 -58 1 202 1 3 1 -149 1 -7 1 152 1 -6 1 -129 1 24 1 119 1 52 1 -139 1 -58 1 179 1 -11 1 -136 1 20 1 140 1 -32 1 -117 1 18 1 139 1 -44 1 -130 1 -24 1 118 1 -21 1 -117 1 -17 1 115 1 -6 1 -220 1 22 1 163 1 -18 1 -107 1 16 1 135 1 14 1 -116 1 -17 1 136 1 -2 1 -155 1 67 1 154 1 -29 1 -167 1 -28 1 132 1 78 1 -183 1 65 1 134 1 -21 1 -99 1 -21 1 122 1 17 1 -135 1 -15 1 151 1 57 1 -132 1 51 1 -136 1 -32 1 142 1 28 1 -215 1 112 1 184 1 -35 1 -123 1 6 1 112 1 35 1 -98 1 -8 1 -106 1 34 1 137 1 -53 1 -132 1 -6 1 137 1 39 1 -180 1 16 1 146 1 -107 1 -111 1 18 1 136 1 15 1 -101 1 -2 1 96 1 69 1 -189 1 2 1 147 1 -12 1 -226 1 204 1 129 1 -26 1 -128 1 -26 1 156 1 13 1 -151 1 -49 1 147 1 43 1 -118 1 -7 1 134 1 -1 1 -114 1 -11 1 168 1 35 1 -154 1 -43 1 140 1 -28 1 -134 1 28 1 153 1 48 1 -140 1 25 1 108 1 -4 1 -149 1 -31 1 129 1 -5 1 -125 1 -7 1 131 1 17 1 -123 1 -40 1 101 1 -63 1 -84 1 -26 1 138 1 35 1 -109 1 11 1 129 1 -17 1 -102 1 -23 1 131 1 42 1 -120 1 -24 1 127 1 -6 1 -140 1 96 1 103 1 -9 1 -170 1 -23 1 153 1 20 1 -152 1 62 1 110 1 26 1 -138 1 -7 1 182 1 -50 1 -104 1 -14 1 120 1 -47 1 -143 1 39 1 123 1 8 1 -169 1 61 1 154 1 47 1 -111 1 -22 1 181 1 -86 1 -131 1 -100 1 203 1 -47 1 -160 1 -8 1 140 1 -12 1 -109 1 -5 1 136 1 67 1 -170 1 49 1 150 1 -25 1 -159 1 14 1 131 1 -22 1 -100 1 19 1 127 1 63 1 -146 1 3 1 145 1 -25 1 -102 1 -6 1 104 1 31 1 -154 1 -56 1 161 1 -4 1 -134 1 36 1 180 1 -35 1 -96 1 -32 1 86 1 -9 1 -107 1 0 1 112 1 -27 1 -108 1 -9 1 109 1 61 1 -169 1 -7 1 163 1 -27 1 -123 1 67 1 113 1 16 1 -153 1 21 1 94 1 44 1 -148 1 -44 1 135 1 8 1 -143 1 -52 1 140 1 -14 1 -94 1 -33 1 142 1 -2 1 -123 1 9 1 146 1 56 1 -158 1 20 1 112 1 49 1 -147 1 -30 1 138 1 2 1 -131 1 17 1 121 1 39 1 -126 1 -43 1 111 1 8 1 -133 1 10 1 103 1 62 1 -131 1 19 1 116 1 -10 1 -144 1 -31 1 124 1 -20 1 -150 1 63 1 112 1 35 1 -117 1 41 1 139 1 -60 1 -86 1 -39 1 135 1 2 1 -122 1 -58 1 148 1 -41 1 -95 1 63 1 113 1 -11 1 -197 1 -47 1 146 1 -16 1 -149 1 -14 1 146 1 5 1 -88 1 -20 1 124 1 25 1 -157 1 8 1 135 1 20 1 -135 1 -12 1 140 1 11 1 -103 1 -58 1 172 1 35 1 -195 1 10 1 90 1 0 1 -137 1 -33 1 120 1 13 1 -134 1 -31 1 111 1 42 1 -127 1 54 1 101 1 26 1 -141 1 7 1 86 1 31 1 -125 1 50 1 -133 1 26 1 173 1 -37 1 -129 1 16 1 145 1 -21 1 -115 1 -3 1 162 1 -41 1 -117 1 -28 1 142 1 52 1 -160 1 93 1 102 1 89 1 -178 1 -12 1 174 1 -43 1 -108 1 47 1 -171 1 29 1 100 1 -62 1 140 1 71 1 -318 1 121 1 123 1 47 1 -200 1 -10 1 110 1 -103 1 -99 1 -25 1 124 1 -56 1 117 1 -6 1 -167 1 -14 1 164 1 43 1 -88 1 -20 1 141 1 29 1 -135 1 -18 1 200 1 -60 1 -130 1 0 1 93 1 -94 1 193 1 -34 1 -196 1 63 1 184 1 33 1 -160 1 -46 1 193 1 16 1 -185 1 71 1 -173 1 118 1 125 1 32 1 -166 1 50 1 169 1 31 1 -110 1 28 1 109 1 -47 1 -101 1 -18 1 174 1 -26 1 -108 1 41 1 94 1 11 1 -85 1 23 1 135 1 -8 1 -131 1 50 1 -102 1 35 1 119 1 -4 1 -150 1 0 1 163 1 36 1 -151 1 -28 1 95 1 -60 1 218 1 -34 1 -110 1 -28 1 123 1 -22 1 -92 1 -8 1 124 1 -4 1 -157 1 -17 1 112 1 -40 1 -103 1 -6 1 115 1 7 1 -179 1 2 1 104 1 0 1 -90 1 26 1 112 1 52 1 -126 1 -40 1 153 1 -27 1 -92 1 -3 1 102 1 -14 1 -114 1 -23 1 106 1 15 1 -91 1 -18 1 112 1 -36 1 -110 1 10 1 79 1 1 1 -98 1 -16 1 80 1 4 1 -105 1 -6 1 129 1 -57 1 -78 1 -8 1 134 1 -47 1 104 1 -28 1 -120 1 18 1 100 1 19 1 -96 1 -44 1 89 1 28 1 -89 1 -40 1 96 1 -35 1 -70 1 -15 1 118 1 -51 1 -72 1 22 1 75 1 21 1 -93 1 7 1 143 1 -10 1 -99 1 40 1 116 1 -29 1 -97 1 6 1 81 1 18 1 -84 1 21 1 110 1 -27 1 -76 1 -9 1 101 1 -6 1 -79 1 -58 1 135 1 -17 1 -169 1 42 1 65 1 15 1 -96 1 -20 1 148 1 -66 1 -95 1 21 1 73 1 27 1 -88 1 1 1 101 1 -6 1 -120 1 36 1 58 1 -6 1 -89 1 8 1 69 1 8 1 -102 1 -21 1 92 1 14 1 -91 1 19 1 87 1 -35 1 -100 1 -10 1 75 1 25 1 -73 1 14 1 127 1 -30 1 -107 1 41 1 93 1 5 1 -113 1 -7 1 147 1 18 1 -122 1 18 1 109 1 -49 1 -94 1 6 1 88 1 -12 1 -122 1 20 1 100 1 33 1 -73 1 -12 1 89 1 -48 1 -116 1 72 1 67 1 15 1 -99 1 7 1 95 1 -30 1 -132 1 50 1 106 1 16 1 -99 1 -10 1 94 1 21 1 -100 1 11 1 122 1 -47 1 -87 1 -22 1 103 1 10 1 -96 1 -15 1 89 1 -18 1 -85 1 -18 1 111 1 -53 1 -72 1 -6 1 92 1 30 1 -87 1 -39 1 144 1 -38 1 -122 1 32 1 114 1 22 1 -128 1 39 1 89 1 -28 1 -100 1 0 1 108 1 37 1 -117 1 9 1 94 1 25 1 -90 1 9 1 85 1 -9 1 -85 1 -28 1 103 1 -31 1 -67 1 -2 1 76 1 26 1 -133 1 -6 1 129 1 32 1 -104 1 47 1 81" stroke="#525252" stroke-width="1.45" vector-effect="non-scaling-stroke" fill="none" stroke-linejoin="bevel"/>
<path transform="translate(86.60 0) scale(0.25046 0.1)" d="M0 4279l1 166 1 -64 1 -183 1 82 1 179 1 -77 1 169 1 -14 1 -157 1 -84 1 218 1 -63 1 -206 1 -15 1 244 1 -42 1 -176 1 -14 1 205 1 -57 1 -162 1 -10 1 165 1 -15 1 -235 1 47 1 170 1 -26 1 -202 1 -68 1 265 1 68 1 -221 1 96 1 175 1 -70 1 -204 1 59 1 164 1 2 1 -171 1 -39 1 175 1 67 1 -199 1 -22 1 190 1 -50 1 -127 1 -20 1 204 1 -51 1 -133 1 -29 1 175 1 -3 1 -189 1 -18 1 270 1 2 1 -157 1 -50 1 173 1 10 1 -174 1 33 1 211 1 43 1 -213 1 -30 1 155 1 16 1 -213 1 63 1 185 1 -17 1 -181 1 65 1 221 1 -31 1 -157 1 -65 1 227 1 -44 1 -180 1 77 1 -180 1 -81 1 183 1 51 1 -224 1 67 1 207 1 30 1 -179 1 22 1 132 1 -35 1 -228 1 42 1 211 1 -20 1 -260 1 137 1 217 1 -30 1 -177 1 30 1 103 1 17 1 -155 1 -44 1 156 1 44 1 -218 1 -59 1 197 1 6 1 -199 1 -48 1 292 1 -89 1 -155 1 64 1 227 1 10 1 -215 1 64 1 209 1 -27 1 -177 1 -25 1 211 1 -32 1 -136 1 -54 1 174 1 -52 1 -185 1 25 1 159 1 117 1 -289 1 119 1 275 1 -86 1 -174 1 6 1 190 1 -59 1 -154 1 26 1 212 1 -45 1 -218 1 52 1 117 1 -69 1 168 1 24 1 -229 1 -69 1 180 1 77 1 -239 1 75 1 161 1 -45 1 -215 1 -6 1 204 1 10 1 -169 1 15 1 159 1 -46 1 -126 1 -114 1 266 1 -29 1 -192 1 54 1 142 1 -71 1 -140 1 85 1 120 1 -110 1 237 1 13 1 -224 1 46 1 171 1 40 1 -215 1 -51 1 193 1 39 1 -182 1 50 1 172 1 -51 1 -187 1 16 1 162 1 -9 1 -114 1 47 1 -225 1 55 1 212 1 -51 1 -168 1 -60 1 166 1 74 1 -191 1 67 1 267 1 -122 1 -164 1 -1 1 189 1 8 1 -177 1 149 1 120 1 -47 1 -188 1 -37 1 142 1 34 1 -216 1 -57 1 205 1 -80 1 -120 1 -22 1 218 1 44 1 -261 1 4 1 193 1 71 1 -163 1 25 1 172 1 58 1 -174 1 24 1 154 1 -37 1 -157 1 23 1 164 1 -14 1 -153 1 -27 1 187 1 -29 1 -223 1 21 1 190 1 25 1 -282 1 65 1 170 1 -76 1 -148 1 11 1 197 1 -21 1 -141 1 -22 1 156 1 -32 1 -138 1 -66 1 173 1 50 1 -124 1 -6 1 168 1 47 1 -214 1 93 1 209 1 -32 1 -200 1 30 1 194 1 -36 1 -225 1 -40 1 170 1 -11 1 -223 1 34 1 208 1 18 1 -188 1 -29 1 206 1 6 1 -220 1 71 1 141 1 -6 1 -120 1 -41 1 142 1 3 1 -163 1 -30 1 167 1 -51 1 -149 1 -14 1 223 1 -41 1 -174 1 0 1 238 1 -2 1 -263 1 30 1 222 1 41 1 -127 1 -6 1 148 1 -5 1 -177 1 -31 1 234 1 8 1 -231 1 88 1 -230 1 55 1 212 1 -19 1 -233 1 45 1 158 1 -30 1 -142 1 -60 1 185 1 38 1 -271 1 46 1 183 1 -32 1 -126 1 -16 1 150 1 -25 1 -167 1 -19 1 180 1 -22 1 -158 1 -30 1 171 1 30 1 -135 1 -17 1 200 1 61 1 -209 1 -56 1 199 1 29 1 -194 1 -52 1 174 1 -54 1 -144 1 19 1 161 1 13 1 -174 1 -30 1 174 1 34 1 -156 1 -87 1 202 1 -12 1 -178 1 -7 1 227 1 -7 1 -179 1 -62 1 193 1 33 1 -223 1 44 1 147 1 -51 1 -122 1 8 1 187 1 -2 1 -169 1 -34 1 153 1 26 1 -132 1 14 1 247 1 -142 1 -189 1 -30 1 203 1 16 1 -230 1 -1 1 197 1 -4 1 -220 1 94 1 152 1 -43 1 -183 1 2 1 155 1 -15 1 -166 1 41 1 226 1 26 1 -200 1 90 1 185 1 27 1 -230 1 38 1 252 1 -106 1 -275 1 25 1 143 1 30 1 -160 1 48 1 -178 1 88 1 151 1 -84 1 -175 1 94 1 235 1 32 1 -218 1 80 1 180 1 -16 1 -162 1 40 1 226 1 -26 1 -227 1 -14 1 186 1 -39 1 -244 1 -14 1 246 1 45 1 -225 1 -71 1 196 1 81 1 -268 1 81 1 172 1 -61 1 -198 1 -10 1 248 1 35 1 -261 1 -18 1 242 1 -92 1 -280 1 87 1 109 1 135 1 -308 1 77 1 271 1 -73 1 -191 1 -55 1 185 1 19 1 -354 1 -7 1 275 1 45 1 -216 1 27 1 249 1 124 1 -336 1 64 1 186 1 26 1 -219 1 -60 1 339 1 -53 1 -258 1 24 1 231 1 -102 1 -256 1 -59 1 306 1 -16 1 -383 1 132 1 158 1 53 1 -163 1 -29 1 217 1 54 1 -286 1 -22 1 236 1 52 1 -248 1 80 1 229 1 31 1 -230 1 -13 1 173 1 21 1 -203 1 -97 1 280 1 -57 1 -236 1 119 1 209 1 91 1 -294 1 31 1 180 1 -111 1 -181 1 -34 1 254 1 13 1 -206 1 47 1 195 1 -1 1 -194 1 -38 1 213 1 -30 1 -201 1 -46 1 281 1 -136 1 -194 1 98 1 174 1 -22 1 -140 1 16 1 240 1 -100 1 -186 1 -41 1 215 1 33 1 -190 1 8 1 285 1 -176 1 -208 1 82 1 172 1 10 1 -234 1 -95 1 253 1 7 1 -202 1 -5 1 264 1 32 1 -189 1 -31 1 266 1 36 1 -255 1 -11 1 264 1 -72 1 -344 1 89 1 276 1 2 1 -149 1 -136 1 294 1 83 1 -333 1 73 1 231 1 -38 1 -200 1 -53 1 173 1 66 1 -235 1 -67 1 233 1 50 1 -191 1 -69 1 217 1 54 1 -182 1 43 1 233 1 69 1 -284 1 55 1 211 1 -73 1 -167 1 40 1 163 1 -58 1 -224 1 -73 1 234 1 -21 1 -153 1 11 1 154 1 -157 1 321 1 -28 1 -224 1 -26 1 168 1 77 1 -209 1 -165 1 372 1 -162 1 -160 1 66 1 173 1 -33 1 -189 1 10 1 203 1 -8 1 -223 1 9 1 190 1 85 1 -214 1 55 1 242 1 -47 1 -227 1 -51 1 243 1 -70 1 -249 1 -33 1 180 1 28 1 -323 1 60 1 256 1 -2 1 -161 1 -56 1 162 1 94 1 -267 1 97 1 196 1 37 1 -211 1 -20 1 163 1 70 1 -184 1 -5 1 264 1 -14 1 -135 1 83 1 -247 1 -49 1 231 1 -86 1 -214 1 109 1 231 1 22 1 -234 1 149 1 238 1 18 1 -238 1 10 1 211 1 -119 1 -175 1 41 1 229 1 -38 1 -207 1 -64 1 212 1 8 1 -280 1 4 1 257 1 -1 1 -292 1 42 1 173 1 -49 1 -163 1 -76 1 282 1 -15 1 -278 1 -33 1 275 1 40 1 -235 1 16 1 199 1 -61 1 -183 1 42 1 204 1 71 1 -213 1 -20 1 277 1 17 1 -293 1 80 1 159 1 58 1 -213 1 -16 1 192 1 1 1 -249 1 -71 1 222 1 107 1 -264 1 24 1 234 1 70 1 -282 1 13 1 179 1 31 1 -208 1 -22 1 237 1 -125 1 -235 1 -57 1 282 1 -30 1 -207 1 18 1 169 1 83 1 -241 1 50 1 284 1 -84 1 -287 1 142 1 140 1 72 1 -257 1 19 1 184 1 20 1 -277 1 -37 1 252 1 9 1 -238 1 26 1 279 1 20 1 -285 1 51 1 145 1 13 1 -239 1 -46 1 324 1 -84 1 -219 1 -13 1 212 1 -7 1 -144 1 -17 1 168 1 37 1 -203 1 -29 1 213 1 -133 1 300 1 47 1 -265 1 146 1 117 1 -76 1 -204 1 22 1 161 1 112 1 -226 1 135 1 178 1 13 1 -189 1 36 1 159 1 7 1 -147 1 -162 1 335 1 23 1 -248 1 109 1 168 1 -5 1 -369 1 52 1 279 1 -35 1 -204 1 141 1 140 1 -33 1 -241 1 -6 1 194 1 14 1 -151 1 -59 1 243 1 -31 1 -137 1 -35 1 142 1 44 1 -260 1 77 1 147 1 -1 1 -192 1 79 1 115 1 50 1 -189 1 23 1 205 1 -51 1 -161 1 -4 1 210 1 10 1 -164 1 -4 1 142 1 46 1 -212 1 -4 1 139 1 6 1 -169 1 74 1 147 1 -29 1 -148 1 -3 1 144 1 53 1 -228 1 24 1 129 1 26 1 -176 1 -55 1 196 1 -18 1 -182 1 6 1 191 1 -80 1 -157 1 38 1 218 1 56 1 -248 1 34 1 197 1 -12 1 -182 1 -13 1 178 1 62 1 -248 1 160 1 133 1 -13 1 -186 1 -67 1 151 1 68 1 -177 1 10 1 121 1 -10 1 -157 1 7 1 183 1 51 1 -185 1 -67 1 224 1 -42 1 -191 1 1 1 208 1 86 1 -299 1 3 1 178 1 -112 1 246 1 -34 1 -266 1 95 1 149 1 -48 1 -134 1 85 1 -248 1 103 1 195" stroke="#d04242" stroke-width="1.45" vector-effect="non-scaling-stroke" fill="none" stroke-linejoin="bevel"/>
<path transform="translate(86.60 0) scale(0.25046 0.1)" d="M0 4561l1 230 1 -14 1 -232 1 -125 1 273 1 -38 1 -214 1 25 1 228 1 149 1 -323 1 128 1 -347 1 123 1 229 1 -23 1 -245 1 -62 1 593 1 -306 1 -223 1 98 1 293 1 -151 1 -188 1 -9 1 299 1 0 1 -303 1 61 1 175 1 -26 1 -217 1 -59 1 232 1 -161 1 -158 1 6 1 293 1 38 1 -184 1 -55 1 236 1 -27 1 -209 1 40 1 196 1 4 1 -214 1 -30 1 254 1 -99 1 -186 1 42 1 207 1 -6 1 -235 1 27 1 252 1 28 1 -244 1 50 1 205 1 11 1 -331 1 84 1 269 1 -91 1 -198 1 -13 1 203 1 -94 1 -112 1 -58 1 194 1 -27 1 -185 1 -80 1 186 1 71 1 -270 1 85 1 172 1 106 1 -265 1 -8 1 237 1 -33 1 -191 1 84 1 192 1 -112 1 -226 1 66 1 151 1 28 1 -240 1 30 1 150 1 -49 1 143 1 31 1 -152 1 -67 1 215 1 8 1 -247 1 -61 1 204 1 0 1 -207 1 29 1 151 1 -8 1 -213 1 -38 1 174 1 -3 1 -121 1 -34 1 234 1 44 1 -148 1 62 1 202 1 -66 1 -176 1 -33 1 157 1 -36 1 -201 1 11 1 224 1 -8 1 -172 1 55 1 158 1 8 1 -161 1 -8 1 228 1 6 1 -220 1 71 1 137 1 -31 1 -206 1 86 1 174 1 35 1 -218 1 -32 1 137 1 -13 1 -142 1 -1 1 151 1 53 1 -202 1 -8 1 176 1 -93 1 -143 1 -76 1 214 1 35 1 -183 1 -48 1 175 1 -14 1 -143 1 -79 1 262 1 16 1 -266 1 114 1 176 1 -20 1 -151 1 79 1 -178 1 0 1 181 1 18 1 -145 1 25 1 227 1 29 1 -188 1 -12 1 217 1 -2 1 -225 1 30 1 180 1 41 1 -232 1 6 1 173 1 12 1 -176 1 14 1 -162 1 11 1 149 1 52 1 -213 1 108 1 107 1 -5 1 -156 1 37 1 -152 1 41 1 220 1 -34 1 -154 1 -35 1 180 1 29 1 -195 1 -18 1 134 1 58 1 -166 1 -42 1 146 1 10 1 -169 1 -28 1 198 1 -6 1 -153 1 70 1 163 1 -14 1 -240 1 -18 1 140 1 41 1 -200 1 85 1 142 1 -8 1 -172 1 -35 1 125 1 -26 1 -106 1 -58 1 146 1 24 1 -151 1 -49 1 172 1 -48 1 -188 1 -3 1 228 1 -57 1 -128 1 36 1 153 1 -61 1 -135 1 -67 1 206 1 22 1 -184 1 68 1 168 1 -39 1 -193 1 24 1 187 1 20 1 -173 1 -31 1 237 1 -130 1 -179 1 52 1 191 1 -50 1 -151 1 11 1 186 1 108 1 -238 1 43 1 -178 1 77 1 173 1 26 1 -155 1 86 1 -184 1 43 1 183 1 -44 1 -190 1 23 1 115 1 -25 1 -185 1 -5 1 294 1 24 1 -208 1 -33 1 279 1 -39 1 -188 1 26 1 129 1 55 1 -154 1 -33 1 151 1 -84 1 -172 1 26 1 158 1 4 1 -143 1 40 1 145 1 51 1 -172 1 11 1 176 1 56 1 -268 1 -25 1 193 1 -76 1 -100 1 31 1 188 1 -39 1 -201 1 -67 1 172 1 -10 1 -145 1 32 1 184 1 59 1 -212 1 40 1 140 1 -28 1 -130 1 8 1 136 1 12 1 -164 1 -4 1 184 1 -42 1 -111 1 0 1 147 1 14 1 -176 1 -10 1 94 1 42 1 -166 1 18 1 132 1 9 1 -210 1 27 1 231 1 -19 1 -199 1 -76 1 247 1 -43 1 -190 1 78 1 188 1 8 1 -141 1 -67 1 201 1 3 1 -157 1 -4 1 109 1 65 1 -212 1 -29 1 210 1 71 1 -241 1 54 1 190 1 3 1 -212 1 94 1 -202 1 83 1 177 1 60 1 -192 1 14 1 212 1 -27 1 -182 1 -40 1 190 1 -89 1 -132 1 -77 1 156 1 69 1 -149 1 86 1 159 1 -15 1 -185 1 -44 1 171 1 -105 1 -191 1 94 1 98 1 69 1 -189 1 80 1 165 1 8 1 -224 1 -13 1 169 1 -88 1 -129 1 38 1 205 1 32 1 -133 1 50 1 -120 1 14 1 197 1 41 1 -238 1 4 1 211 1 -31 1 -116 1 -97 1 245 1 -23 1 -185 1 44 1 139 1 91 1 -191 1 24 1 124 1 -25 1 -195 1 -15 1 168 1 16 1 -177 1 -58 1 196 1 -80 1 -179 1 144 1 104 1 10 1 -140 1 13 1 184 1 -22 1 -239 1 -14 1 239 1 -61 1 -116 1 -11 1 230 1 24 1 -207 1 9 1 181 1 56 1 -196 1 -54 1 186 1 17 1 -153 1 -3 1 175 1 -83 1 -139 1 -50 1 226 1 -90 1 -177 1 116 1 181 1 25 1 -199 1 55 1 200 1 -29 1 -240 1 -99 1 212 1 -71 1 -142 1 1 1 243 1 -65 1 -196 1 47 1 154 1 26 1 -152 1 -45 1 231 1 7 1 -228 1 -16 1 199 1 17 1 -150 1 -57 1 180 1 -19 1 -167 1 13 1 187 1 35 1 -106 1 -71 1 200 1 -36 1 -157 1 89 1 -209 1 -22 1 204 1 -16 1 -117 1 -20 1 193 1 -21 1 -156 1 50 1 204 1 39 1 -133 1 -49 1 195 1 -70 1 -122 1 77 1 -181 1 15 1 136 1 -34 1 -143 1 23 1 167 1 7 1 -137 1 1 1 184 1 -13 1 -121 1 24 1 205 1 36 1 -151 1 112 1 -254 1 0 1 161 1 23 1 -178 1 -12 1 142 1 -71 1 -128 1 42 1 180 1 -43 1 -136 1 -34 1 213 1 5 1 -188 1 -29 1 193 1 26 1 -157 1 -30 1 197 1 -34 1 -202 1 36 1 177 1 47 1 -244 1 52 1 133 1 65 1 -183 1 1 1 214 1 -14 1 -159 1 -6 1 108 1 42 1 -246 1 -24 1 192 1 8 1 -209 1 76 1 137 1 17 1 -229 1 -39 1 177 1 54 1 -180 1 27 1 263 1 70 1 -208 1 59 1 160 1 -40 1 -223 1 24 1 202 1 -17 1 -183 1 -15 1 133 1 -22 1 -145 1 -82 1 213 1 -54 1 -193 1 103 1 94 1 -52 1 204 1 -69 1 -165 1 15 1 134 1 37 1 -198 1 82 1 171 1 -42 1 -206 1 -23 1 187 1 -67 1 -161 1 -13 1 175 1 16 1 -201 1 48 1 141 1 -26 1 -177 1 -72 1 169 1 -70 1 183 1 13 1 -101 1 -104 1 209 1 23 1 -213 1 -46 1 211 1 -92 1 -170 1 95 1 177 1 11 1 -201 1 55 1 163 1 -38 1 -193 1 -59 1 204 1 -16 1 -338 1 180 1 218 1 26 1 -148 1 11 1 188 1 -2 1 -170 1 74 1 130 1 -47 1 -212 1 52 1 151 1 -3 1 -178 1 23 1 184 1 12 1 -129 1 41 1 -166 1 1 1 222 1 -30 1 -158 1 20 1 161 1 16 1 -135 1 -67 1 137 1 28 1 -186 1 68 1 158 1 37 1 -180 1 4 1 163 1 -30 1 -230 1 -69 1 147 1 81 1 -189 1 -40 1 220 1 -12 1 -197 1 -38 1 191 1 -53 1 -106 1 5 1 165 1 63 1 -182 1 -16 1 177 1 50 1 -224 1 70 1 175 1 40 1 -135 1 -30 1 186 1 -43 1 -279 1 122 1 111 1 80 1 -178 1 -35 1 191 1 -8 1 -175 1 53 1 127 1 -55 1 -148 1 -12 1 154 1 64 1 -221 1 15 1 165 1 -29 1 -157 1 -40 1 181 1 -24 1 -137 1 -107 1 242 1 52 1 -197 1 18 1 156 1 -36 1 -193 1 64 1 195 1 39 1 -249 1 80 1 234 1 -23 1 -210 1 59 1 159 1 -68 1 -212 1 26 1 175 1 -19 1 -177 1 -16 1 193 1 -18 1 -116 1 -15 1 190 1 -79 1 -134 1 -4 1 282 1 7 1 -223 1 -32 1 222 1 26 1 -180 1 -10 1 179 1 -33 1 -136 1 -26 1 145 1 35 1 -169 1 23 1 158 1 -23 1 -179 1 72 1 228 1 -24 1 -209 1 -48 1 156 1 -71 1 -156 1 22 1 206 1 19 1 -158 1 -48 1 207 1 -95 1 -155 1 4 1 169 1 48 1 -212 1 82 1 184 1 -142 1 -161 1 9 1 136 1 79 1 -188 1 -3 1 199 1 78 1 -189 1 9 1 178 1 -38 1 -174 1 9 1 199 1 -103 1 -72 1 4 1 137 1 -57 1 -166 1 43 1 132 1 4 1 -160 1 62 1 160 1 105 1 -227 1 -30 1 157 1 16 1 -235 1 86 1 157 1 -26 1 -131 1 -60 1 193 1 20 1 -219 1 8 1 150 1 -13 1 -114 1 -52 1 234 1 -8 1 -154 1 52 1 134 1 -38 1 -182 1 -4 1 187 1 -30 1 -131 1 -23 1 179 1 -30 1 -159 1 3 1 197 1 29 1 -188 1 -93 1 241 1 -44 1 -148 1 66 1 161 1 58 1 -189 1 21 1 214 1 -75 1 -160 1 -38 1 183 1 -46 1 -131 1 -44 1 202 1 18 1 -205 1 51 1 155 1 4 1 -128 1 9 1 133 1 -5 1 -197 1 49 1 163 1 -7 1 -224" stroke="#416ed9" stroke-width="1.45" vector-effect="non-scaling-stroke" fill="none" stroke-linejoin="bevel"/>
<path transform="translate(86.60 0) scale(0.25046 0.1)" d="M0 4433l1 164 1 8 1 -123 1 50 1 -157 1 2 1 206 1 -115 1 -172 1 -59 1 266 1 -52 1 -203 1 67 1 -184 1 -61 1 205 1 -76 1 -280 1 58 1 165 1 71 1 -245 1 62 1 177 1 -110 1 252 1 -27 1 -201 1 27 1 184 1 -6 1 -233 1 62 1 -207 1 -15 1 272 1 -23 1 -207 1 -24 1 231 1 23 1 -287 1 -24 1 289 1 -6 1 -149 1 -50 1 240 1 -77 1 -274 1 -1 1 329 1 -31 1 -297 1 -16 1 220 1 -84 1 -209 1 -42 1 249 1 77 1 -227 1 6 1 177 1 -36 1 -130 1 -30 1 175 1 117 1 -300 1 164 1 135 1 -30 1 141 1 -85 1 -162 1 -186 1 375 1 -116 1 -235 1 160 1 162 1 47 1 -337 1 -56 1 359 1 -108 1 -235 1 8 1 239 1 25 1 -226 1 73 1 162 1 4 1 -199 1 33 1 212 1 -18 1 -208 1 41 1 293 1 -100 1 -191 1 89 1 179 1 -76 1 -157 1 -32 1 247 1 -39 1 -224 1 -88 1 218 1 -50 1 -155 1 81 1 169 1 22 1 -168 1 -26 1 196 1 19 1 -144 1 18 1 129 1 -71 1 175 1 -119 1 -243 1 25 1 260 1 16 1 -219 1 -53 1 179 1 88 1 -254 1 220 1 -468 1 242 1 214 1 30 1 -159 1 -24 1 223 1 -21 1 -243 1 48 1 227 1 -52 1 -259 1 -33 1 287 1 -67 1 -161 1 -42 1 176 1 31 1 -192 1 46 1 132 1 48 1 -222 1 -10 1 207 1 -107 1 -110 1 34 1 198 1 -54 1 -184 1 96 1 187 1 -11 1 -236 1 69 1 204 1 10 1 -179 1 -32 1 190 1 47 1 -193 1 106 1 -239 1 98 1 204 1 -156 1 -211 1 18 1 249 1 62 1 -240 1 80 1 184 1 50 1 -208 1 12 1 164 1 -70 1 -247 1 51 1 196 1 111 1 -287 1 60 1 172 1 -71 1 227 1 -2 1 -222 1 -98 1 197 1 40 1 -281 1 -52 1 202 1 -68 1 -169 1 77 1 188 1 81 1 -240 1 -60 1 194 1 83 1 -279 1 62 1 211 1 -91 1 -155 1 -19 1 226 1 61 1 -223 1 97 1 -206 1 -74 1 294 1 -36 1 -173 1 42 1 146 1 39 1 -220 1 -51 1 200 1 -38 1 -237 1 164 1 214 1 79 1 -269 1 31 1 202 1 76 1 -173 1 -87 1 273 1 -123 1 -256 1 114 1 162 1 -76 1 -223 1 41 1 202 1 67 1 -181 1 -23 1 171 1 -10 1 -144 1 -87 1 180 1 -42 1 -108 1 36 1 181 1 -25 1 -166 1 -25 1 242 1 -56 1 -174 1 137 1 99 1 -9 1 -159 1 -7 1 201 1 -62 1 -205 1 55 1 201 1 -18 1 -169 1 -30 1 239 1 7 1 -207 1 95 1 172 1 92 1 -257 1 71 1 196 1 -20 1 -165 1 -54 1 133 1 10 1 -245 1 107 1 144 1 -141 1 -203 1 103 1 178 1 30 1 -243 1 17 1 155 1 -50 1 163 1 -54 1 -238 1 12 1 158 1 58 1 -211 1 30 1 224 1 -36 1 -212 1 102 1 168 1 11 1 -179 1 20 1 158 1 -11 1 -164 1 10 1 197 1 21 1 -139 1 -125 1 273 1 -90 1 -158 1 82 1 245 1 -15 1 -222 1 26 1 146 1 -9 1 -168 1 -25 1 184 1 58 1 -187 1 -60 1 180 1 -15 1 -247 1 -17 1 182 1 -62 1 217 1 -135 1 -105 1 22 1 178 1 -70 1 -214 1 54 1 212 1 34 1 -235 1 1 1 191 1 -44 1 -160 1 -41 1 223 1 -30 1 -180 1 10 1 242 1 26 1 -166 1 4 1 150 1 19 1 -187 1 23 1 189 1 5 1 -221 1 -31 1 181 1 39 1 -199 1 2 1 259 1 -52 1 -254 1 37 1 169 1 -86 1 195 1 39 1 -236 1 27 1 191 1 -89 1 -212 1 58 1 152 1 -35 1 -147 1 99 1 -199 1 -9 1 210 1 64 1 -232 1 14 1 187 1 -1 1 -171 1 -28 1 192 1 80 1 -194 1 -90 1 318 1 -109 1 -167 1 -20 1 138 1 16 1 -271 1 78 1 183 1 -119 1 -144 1 7 1 153 1 -74 1 152 1 -5 1 -137 1 -10 1 236 1 20 1 -207 1 -33 1 190 1 48 1 -188 1 -11 1 180 1 12 1 -201 1 157 1 114 1 -14 1 -210 1 82 1 149 1 -9 1 -138 1 -61 1 270 1 -83 1 -176 1 -34 1 189 1 -48 1 -159 1 6 1 190 1 -81 1 194 1 -111 1 -159 1 -108 1 274 1 -31 1 -154 1 -68 1 176 1 10 1 -205 1 69 1 195 1 29 1 -159 1 40 1 145 1 -23 1 -191 1 64 1 188 1 -60 1 -221 1 27 1 234 1 -65 1 -190 1 -11 1 183 1 -2 1 -163 1 9 1 193 1 47 1 -184 1 15 1 171 1 -14 1 -142 1 -70 1 148 1 -48 1 -131 1 -8 1 233 1 19 1 -223 1 35 1 156 1 2 1 -160 1 58 1 178 1 17 1 -184 1 8 1 107 1 26 1 -227 1 36 1 140 1 -67 1 151 1 -32 1 -210 1 42 1 203 1 -25 1 -220 1 9 1 172 1 3 1 -190 1 46 1 138 1 -11 1 -139 1 -30 1 203 1 2 1 -152 1 6 1 134 1 62 1 -171 1 79 1 -193 1 18 1 209 1 22 1 -228 1 -9 1 119 1 20 1 -221 1 81 1 150 1 -100 1 203 1 28 1 -203 1 -58 1 155 1 28 1 -128 1 -80 1 259 1 -123 1 -185 1 -55 1 235 1 2 1 -149 1 -5 1 157 1 39 1 -239 1 97 1 200 1 -5 1 -155 1 37 1 232 1 -78 1 -210 1 -40 1 121 1 66 1 -153 1 -34 1 163 1 41 1 -129 1 16 1 239 1 -132 1 -160 1 21 1 185 1 21 1 -136 1 -45 1 167 1 -57 1 -224 1 117 1 -248 1 113 1 161 1 30 1 -144 1 -49 1 203 1 -28 1 -196 1 -42 1 222 1 -25 1 -168 1 24 1 197 1 59 1 -251 1 4 1 168 1 8 1 -247 1 -27 1 166 1 106 1 -232 1 89 1 185 1 -32 1 -169 1 -32 1 225 1 33 1 -217 1 -34 1 182 1 48 1 -191 1 55 1 187 1 -32 1 -193 1 -71 1 200 1 -58 1 -191 1 -29 1 163 1 22 1 -213 1 95 1 167 1 -12 1 -174 1 22 1 180 1 62 1 -215 1 82 1 219 1 -53 1 -166 1 -15 1 151 1 -39 1 -137 1 91 1 -184 1 12 1 227 1 -76 1 -179 1 23 1 181 1 46 1 -205 1 -45 1 216 1 -48 1 -206 1 24 1 182 1 9 1 -183 1 -75 1 225 1 -16 1 -176 1 45 1 191 1 -13 1 -196 1 -9 1 143 1 74 1 -194 1 -35 1 164 1 16 1 -199 1 15 1 182 1 -58 1 -201 1 92 1 209 1 -20 1 -146 1 64 1 159 1 66 1 -188 1 -76 1 238 1 -28 1 -237 1 10 1 238 1 49 1 -174 1 -8 1 240 1 -87 1 -226 1 50 1 149 1 -54 1 -157 1 -24 1 192 1 -27 1 -210 1 40 1 180 1 24 1 -127 1 68 1 -156 1 -16 1 185 1 -24 1 -140 1 -40 1 165 1 -34 1 -187 1 -12 1 214 1 47 1 -171 1 81 1 129 1 44 1 -146 1 -85 1 213 1 -59 1 -157 1 -56 1 224 1 13 1 -198 1 -74 1 189 1 -37 1 -219 1 32 1 142 1 21 1 -165 1 -45 1 158 1 -15 1 -179 1 28 1 174 1 16 1 -196 1 35 1 190 1 15 1 -233 1 21 1 186 1 80 1 -216 1 32 1 222 1 -25 1 -156 1 -2 1 182 1 58 1 -167 1 30 1 154 1 26 1 -244 1 27 1 115 1 50 1 -251 1 67 1 194 1 -18 1 -251 1 80 1 254 1 -19 1 -210 1 -2 1 161 1 24 1 -141 1 -22 1 188 1 -99 1 -135 1 20 1 142 1 -18 1 -208 1 -59 1 179 1 22 1 -211 1 87 1 141 1 60 1 -221 1 36 1 110 1 -27 1 -153 1 28 1 179 1 29 1 -174 1 77 1 212 1 -154 1 -144 1 8 1 192 1 -40 1 -125 1 -14 1 186 1 -40 1 -206 1 -95 1 218 1 9 1 -127 1 -52 1 215 1 -86 1 -177 1 -36 1 184 1 -26 1 -174 1 -25 1 330 1 13 1 -150 1 18 1 189 1 -132 1 -137 1 23 1 144 1 70 1 -157 1 -48 1 216 1 -16 1 -200 1 0 1 186 1 3 1 -188 1 -45 1 156 1 -3 1 -188 1 -17 1 229 1 73 1 -243 1 18 1 184 1 -1 1 -187 1 42 1 151 1 -2 1 -130 1 -16 1 190 1 79 1 -216 1 -60 1 181 1 47 1 -189 1 1 1 173 1 -48 1 -140 1 5 1 160 1 -14 1 -165 1 -100 1 219 1 34 1 -179 1 147 1 89 1 -18 1 -223 1 11 1 177 1 -19 1 -129 1 13 1 147 1 24 1 -192 1 -14 1 207 1 -47 1 -125 1 43 1 170 1 -35 1 -237 1 117 1 126" stroke="#69ac6f" stroke-width="1.45" vector-effect="non-scaling-stroke" fill="none" stroke-linejoin="bevel"/>
<path d="M424.30 338.3H424.80V463.1H424.30zM424.80 356.0H425.30V463.1H424.80zM425.30 391.3H426.30V463.1H425.30zM426.30 373.6H426.79V463.1H426.30zM426.79 409.0H427.79V463.1H426.79zM427.79 373.6H428.29V463.1H427.79zM428.29 391.3H428.79V463.1H428.29zM428.79 373.6H430.79V463.1H428.79zM430.79 426.7H431.29V463.1H430.79zM431.29 409.0H431.78V463.1H431.29zM431.78 426.7H432.28V463.1H431.78zM432.28 391.3H432.78V463.1H432.28zM432.78 409.0H433.28V463.1H432.78zM433.28 426.7H433.78V463.1H433.28zM433.78 391.3H434.28V463.1H433.78zM434.28 409.0H434.78V463.1H434.28zM434.78 391.3H435.28V463.1H434.78zM435.28 409.0H436.28V463.1H435.28zM436.28 391.3H436.77V463.1H436.28zM436.77 409.0H437.77V463.1H436.77zM437.77 426.7H439.27V463.1H437.77zM439.27 409.0H441.76V463.1H439.27zM441.76 426.7H442.26V463.1H441.76zM442.26 409.0H443.26V463.1H442.26zM443.26 426.7H444.26V463.1H443.26zM444.26 391.3H444.76V463.1H444.26zM444.76 409.0H445.26V463.1H444.76zM445.26 426.7H446.75V463.1H445.26zM446.75 409.0H447.75V463.1H446.75zM447.75 426.7H448.25V463.1H447.75zM448.25 409.0H450.75V463.1H448.25zM450.75 426.7H451.74V463.1H450.75zM451.74 409.0H453.24V463.1H451.74zM453.24 426.7H453.74V463.1H453.24zM453.74 409.0H455.74V463.1H453.74zM455.74 391.3H456.23V463.1H455.74zM456.23 373.6H457.73V463.1H456.23zM457.73 356.0H459.73V463.1H457.73zM459.73 391.3H460.73V463.1H459.73zM460.73 373.6H462.72V463.1H460.73zM462.72 391.3H463.72V463.1H462.72zM463.72 373.6H464.72V463.1H463.72zM464.72 356.0H465.22V463.1H464.72zM465.22 373.6H466.71V463.1H465.22zM466.71 391.3H467.21V463.1H466.71zM467.21 373.6H468.71V463.1H467.21zM468.71 391.3H470.21V463.1H468.71zM470.21 356.0H472.70V463.1H470.21zM472.70 391.3H473.20V463.1H472.70zM473.20 373.6H473.70V463.1H473.20zM473.70 356.0H476.19V463.1H473.70zM476.19 391.3H476.69V463.1H476.19zM476.69 373.6H477.69V463.1H476.69zM477.69 391.3H478.69V463.1H477.69zM478.69 356.0H479.19V463.1H478.69zM479.19 373.6H479.69V463.1H479.19zM479.69 391.3H480.19V463.1H479.69zM480.19 373.6H480.68V463.1H480.19zM480.68 391.3H481.68V463.1H480.68zM481.68 409.0H482.68V463.1H481.68zM482.68 391.3H483.18V463.1H482.68zM483.18 409.0H483.68V463.1H483.18zM483.68 373.6H484.18V463.1H483.68zM484.18 391.3H484.68V463.1H484.18zM484.68 409.0H488.17V463.1H484.68zM488.17 391.3H489.17V463.1H488.17zM489.17 373.6H489.67V463.1H489.17zM489.67 391.3H490.16V463.1H489.67zM490.16 409.0H491.66V463.1H490.16zM491.66 391.3H492.16V463.1H491.66zM492.16 409.0H493.16V463.1H492.16zM493.16 391.3H495.15V463.1H493.16zM495.15 409.0H496.15V463.1H495.15zM496.15 356.0H496.65V463.1H496.15zM496.65 409.0H497.15V463.1H496.65zM497.15 391.3H499.15V463.1H497.15zM499.15 409.0H499.65V463.1H499.15zM499.65 391.3H500.14V463.1H499.65zM500.14 409.0H500.64V463.1H500.14zM500.64 356.0H501.14V463.1H500.64zM501.14 391.3H502.14V463.1H501.14zM502.14 409.0H502.64V463.1H502.14zM502.64 391.3H503.14V463.1H502.64zM503.14 356.0H505.63V463.1H503.14zM505.63 391.3H508.63V463.1H505.63zM508.63 373.6H509.13V463.1H508.63zM509.13 409.0H509.62V463.1H509.13zM509.62 391.3H511.12V463.1H509.62zM511.12 409.0H511.62V463.1H511.12zM511.62 391.3H516.11V463.1H511.62zM516.11 356.0H517.11V463.1H516.11zM517.11 373.6H517.61V463.1H517.11zM517.61 391.3H521.60V463.1H517.61zM521.60 409.0H522.10V463.1H521.60zM522.10 373.6H522.60V463.1H522.10zM522.60 391.3H525.59V463.1H522.60zM525.59 409.0H526.09V463.1H525.59zM526.09 391.3H531.08V463.1H526.09zM531.08 409.0H532.08V463.1H531.08zM532.08 426.7H532.58V463.1H532.08zM532.58 409.0H534.07V463.1H532.58zM534.07 426.7H535.07V463.1H534.07zM535.07 391.3H535.57V463.1H535.07zM535.57 426.7H536.07V463.1H535.57zM536.07 373.6H536.57V463.1H536.07zM536.57 409.0H537.57V463.1H536.57zM537.57 426.7H538.07V463.1H537.57zM538.07 409.0H538.57V463.1H538.07zM538.57 373.6H539.06V463.1H538.57zM539.06 426.7H539.56V463.1H539.06zM539.56 391.3H540.56V463.1H539.56zM540.56 426.7H541.56V463.1H540.56zM541.56 409.0H542.56V463.1H541.56zM542.56 462.1H667.80V463.1H542.56z" fill="#525252"/>
<path d="M424.30 444.4H428.79V480.7H424.30zM428.79 426.7H429.29V480.7H428.79zM429.29 444.4H436.28V480.7H429.29zM436.28 426.7H438.77V480.7H436.28zM438.77 444.4H439.27V480.7H438.77zM439.27 426.7H441.27V480.7H439.27zM441.27 444.4H441.76V480.7H441.27zM441.76 426.7H451.24V480.7H441.76zM451.24 444.4H454.24V480.7H451.24zM454.24 426.7H456.23V480.7H454.24zM456.23 444.4H465.71V480.7H456.23zM465.71 426.7H466.21V480.7H465.71zM466.21 444.4H467.21V480.7H466.21zM467.21 426.7H468.21V480.7H467.21zM468.21 444.4H472.20V480.7H468.21zM472.20 426.7H473.70V480.7H472.20zM473.70 444.4H476.69V480.7H473.70zM476.69 426.7H480.19V480.7H476.69zM480.19 444.4H481.18V480.7H480.19zM481.18 426.7H483.68V480.7H481.18zM483.68 444.4H484.18V480.7H483.68zM484.18 426.7H489.67V480.7H484.18zM489.67 444.4H492.16V480.7H489.67zM492.16 426.7H498.15V480.7H492.16zM498.15 444.4H503.14V480.7H498.15zM503.14 462.1H503.64V480.7H503.14zM503.64 444.4H511.12V480.7H503.64zM511.12 426.7H511.62V480.7H511.12zM511.62 444.4H515.11V480.7H511.62zM515.11 426.7H515.61V480.7H515.11zM515.61 444.4H519.11V480.7H515.61zM519.11 426.7H520.60V480.7H519.11zM520.60 444.4H529.58V480.7H520.60zM529.58 426.7H530.08V480.7H529.58zM530.08 444.4H533.58V480.7H530.08zM533.58 426.7H534.07V480.7H533.58zM534.07 444.4H534.57V480.7H534.07zM534.57 426.7H535.07V480.7H534.57zM535.07 444.4H536.07V480.7H535.07zM536.07 426.7H536.57V480.7H536.07zM536.57 444.4H538.07V480.7H536.57zM538.07 462.1H539.06V480.7H538.07zM539.06 444.4H541.06V480.7H539.06zM541.06 426.7H541.56V480.7H541.06zM541.56 444.4H542.06V480.7H541.56zM542.06 426.7H543.06V480.7H542.06zM543.06 444.4H551.54V480.7H543.06zM551.54 462.1H552.04V480.7H551.54zM552.04 444.4H557.53V480.7H552.04zM557.53 426.7H558.52V480.7H557.53zM558.52 444.4H560.02V480.7H558.52zM560.02 426.7H562.52V480.7H560.02zM562.52 444.4H569.00V480.7H562.52zM569.00 462.1H569.50V480.7H569.00zM569.50 444.4H575.99V480.7H569.50zM575.99 462.1H576.49V480.7H575.99zM576.49 444.4H576.99V480.7H576.49zM576.99 426.7H577.98V480.7H576.99zM577.98 444.4H585.47V480.7H577.98zM585.47 462.1H585.97V480.7H585.47zM585.97 444.4H591.96V480.7H585.97zM591.96 426.7H592.45V480.7H591.96zM592.45 444.4H613.41V480.7H592.45zM613.41 462.1H615.41V480.7H613.41zM615.41 444.4H619.40V480.7H615.41zM619.40 462.1H620.90V480.7H619.40zM620.90 444.4H622.39V480.7H620.90zM622.39 462.1H627.38V480.7H622.39zM627.38 444.4H629.88V480.7H627.38zM629.88 462.1H630.38V480.7H629.88zM630.38 444.4H637.36V480.7H630.38zM637.36 462.1H639.36V480.7H637.36zM639.36 444.4H639.86V480.7H639.36zM639.86 462.1H641.35V480.7H639.86zM641.35 444.4H642.35V480.7H641.35zM642.35 462.1H643.35V480.7H642.35zM643.35 444.4H643.85V480.7H643.35zM643.85 462.1H646.84V480.7H643.85zM646.84 444.4H648.34V480.7H646.84zM648.34 462.1H653.83V480.7H648.34zM653.83 426.7H655.82V480.7H653.83zM655.82 444.4H656.32V480.7H655.82zM656.32 462.1H660.32V480.7H656.32zM660.32 444.4H663.31V480.7H660.32zM663.31 462.1H664.31V480.7H663.31zM664.31 444.4H665.31V480.7H664.31zM665.31 462.1H667.80V480.7H665.31z" fill="#d04242"/>
<path d="M424.30 409.0H425.80V498.4H424.30zM425.80 426.7H426.79V498.4H425.80zM426.79 409.0H429.29V498.4H426.79zM429.29 391.3H435.78V498.4H429.29zM435.78 409.0H438.77V498.4H435.78zM438.77 426.7H441.27V498.4H438.77zM441.27 409.0H442.26V498.4H441.27zM442.26 426.7H442.76V498.4H442.26zM442.76 409.0H444.76V498.4H442.76zM444.76 479.7H447.75V498.4H444.76zM447.75 462.1H448.75V498.4H447.75zM448.75 479.7H449.25V498.4H448.75zM449.25 462.1H452.24V498.4H449.25zM452.24 479.7H452.74V498.4H452.24zM452.74 462.1H453.74V498.4H452.74zM453.74 479.7H454.24V498.4H453.74zM454.24 462.1H457.23V498.4H454.24zM457.23 479.7H461.22V498.4H457.23zM461.22 462.1H461.72V498.4H461.22zM461.72 444.4H463.22V498.4H461.72zM463.22 479.7H467.71V498.4H463.22zM467.71 462.1H468.71V498.4H467.71zM468.71 479.7H472.20V498.4H468.71zM472.20 462.1H472.70V498.4H472.20zM472.70 444.4H474.20V498.4H472.70zM474.20 479.7H476.69V498.4H474.20zM476.69 444.4H477.69V498.4H476.69zM477.69 479.7H484.68V498.4H477.69zM484.68 444.4H485.67V498.4H484.68zM485.67 479.7H492.16V498.4H485.67zM492.16 444.4H492.66V498.4H492.16zM492.66 462.1H493.16V498.4H492.66zM493.16 479.7H497.65V498.4H493.16zM497.65 462.1H500.14V498.4H497.65zM500.14 479.7H500.64V498.4H500.14zM500.64 462.1H502.14V498.4H500.64zM502.14 479.7H506.13V498.4H502.14zM506.13 462.1H506.63V498.4H506.13zM506.63 479.7H513.62V498.4H506.63zM513.62 462.1H515.11V498.4H513.62zM515.11 479.7H516.11V498.4H515.11zM516.11 462.1H516.61V498.4H516.11zM516.61 479.7H520.60V498.4H516.61zM520.60 462.1H521.60V498.4H520.60zM521.60 479.7H524.10V498.4H521.60zM524.10 462.1H526.59V498.4H524.10zM526.59 479.7H527.59V498.4H526.59zM527.59 462.1H531.08V498.4H527.59zM531.08 479.7H533.58V498.4H531.08zM533.58 462.1H535.07V498.4H533.58zM535.07 479.7H536.07V498.4H535.07zM536.07 462.1H536.57V498.4H536.07zM536.57 479.7H538.07V498.4H536.57zM538.07 462.1H539.56V498.4H538.07zM539.56 479.7H540.56V498.4H539.56zM540.56 462.1H541.06V498.4H540.56zM541.06 479.7H542.06V498.4H541.06zM542.06 462.1H544.55V498.4H542.06zM544.55 479.7H547.55V498.4H544.55zM547.55 462.1H551.54V498.4H547.55zM551.54 444.4H554.53V498.4H551.54zM554.53 426.7H555.03V498.4H554.53zM555.03 444.4H564.01V498.4H555.03zM564.01 426.7H564.51V498.4H564.01zM564.51 444.4H566.01V498.4H564.51zM566.01 462.1H581.48V498.4H566.01zM581.48 444.4H582.48V498.4H581.48zM582.48 462.1H620.90V498.4H582.48zM620.90 444.4H623.39V498.4H620.90zM623.39 462.1H630.38V498.4H623.39zM630.38 444.4H630.88V498.4H630.38zM630.88 462.1H634.37V498.4H630.88zM634.37 426.7H635.37V498.4H634.37zM635.37 462.1H635.87V498.4H635.37zM635.87 444.4H636.36V498.4H635.87zM636.36 462.1H645.35V498.4H636.36zM645.35 444.4H646.34V498.4H645.35zM646.34 462.1H650.34V498.4H646.34zM650.34 444.4H651.33V498.4H650.34zM651.33 462.1H656.32V498.4H651.33zM656.32 444.4H657.82V498.4H656.32zM657.82 462.1H659.32V498.4H657.82zM659.32 444.4H662.81V498.4H659.32zM662.81 462.1H664.31V498.4H662.81zM664.31 444.4H666.30V498.4H664.31zM666.30 462.1H667.80V498.4H666.30z" fill="#416ed9"/>
<path d="M424.30 479.7H427.79V498.4H424.30zM427.79 462.1H430.29V498.4H427.79zM430.29 479.7H444.26V498.4H430.29zM444.26 462.1H445.26V498.4H444.26zM445.26 479.7H447.75V498.4H445.26zM447.75 462.1H448.25V498.4H447.75zM448.25 479.7H450.75V498.4H448.25zM450.75 462.1H452.24V498.4H450.75zM452.24 479.7H454.24V498.4H452.24zM454.24 462.1H455.24V498.4H454.24zM455.24 479.7H459.73V498.4H455.24zM459.73 462.1H461.72V498.4H459.73zM461.72 479.7H468.21V498.4H461.72zM468.21 462.1H471.20V498.4H468.21zM471.20 479.7H474.20V498.4H471.20zM474.20 462.1H476.19V498.4H474.20zM476.19 479.7H493.66V498.4H476.19zM493.66 462.1H494.66V498.4H493.66zM494.66 479.7H497.15V498.4H494.66zM497.15 462.1H498.15V498.4H497.15zM498.15 479.7H505.63V498.4H498.15zM505.63 462.1H506.13V498.4H505.63zM506.13 479.7H509.13V498.4H506.13zM509.13 462.1H510.12V498.4H509.13zM510.12 479.7H516.11V498.4H510.12zM516.11 462.1H517.11V498.4H516.11zM517.11 479.7H519.11V498.4H517.11zM519.11 462.1H521.10V498.4H519.11zM521.10 479.7H526.59V498.4H521.10zM526.59 462.1H527.59V498.4H526.59zM527.59 479.7H530.08V498.4H527.59zM530.08 462.1H531.08V498.4H530.08zM531.08 479.7H533.58V498.4H531.08zM533.58 462.1H534.07V498.4H533.58zM534.07 479.7H539.56V498.4H534.07zM539.56 462.1H547.05V498.4H539.56zM547.05 479.7H547.55V498.4H547.05zM547.55 462.1H548.05V498.4H547.55zM548.05 479.7H549.54V498.4H548.05zM549.54 462.1H586.97V498.4H549.54zM586.97 444.4H587.96V498.4H586.97zM587.96 462.1H613.41V498.4H587.96zM613.41 444.4H617.90V498.4H613.41zM617.90 462.1H623.89V498.4H617.90zM623.89 444.4H624.89V498.4H623.89zM624.89 462.1H625.39V498.4H624.89zM625.39 444.4H644.35V498.4H625.39zM644.35 462.1H645.35V498.4H644.35zM645.35 444.4H652.33V498.4H645.35zM652.33 462.1H655.82V498.4H652.33zM655.82 444.4H658.32V498.4H655.82zM658.32 462.1H661.31V498.4H658.32zM661.31 444.4H663.81V498.4H661.31zM663.81 462.1H667.80V498.4H663.81z" fill="#69ac6f"/>
<rect x="86.60" y="72.30" width="243.80" height="194.80" fill="none" stroke="#333" stroke-width="1.5"/>
<path d="M82.40 267.10H86.60M82.40 228.14H86.60M82.40 189.18H86.60M82.40 150.22H86.60M82.40 111.26H86.60M82.40 72.30H86.60M84.40 247.62H86.60M84.40 208.66H86.60M84.40 169.70H86.60M84.40 130.74H86.60M84.40 91.78H86.60M86.60 267.10V271.30M135.36 267.10V271.30M184.12 267.10V271.30M232.88 267.10V271.30M281.64 267.10V271.30M330.40 267.10V271.30M110.98 267.10V269.30M159.74 267.10V269.30M208.50 267.10V269.30M257.26 267.10V269.30M306.02 267.10V269.30" stroke="#333" stroke-width="1.4" fill="none"/>
<rect x="424.30" y="72.20" width="243.50" height="194.90" fill="none" stroke="#333" stroke-width="1.5"/>
<path d="M420.10 267.10H424.30M420.10 228.12H424.30M420.10 189.14H424.30M420.10 150.16H424.30M420.10 111.18H424.30M420.10 72.20H424.30M422.10 247.61H424.30M422.10 208.63H424.30M422.10 169.65H424.30M422.10 130.67H424.30M422.10 91.69H424.30M448.65 267.10V269.30M497.35 267.10V269.30M546.05 267.10V269.30M594.75 267.10V269.30M643.45 267.10V269.30" stroke="#333" stroke-width="1.4" fill="none"/>
<rect x="86.60" y="321.20" width="243.70" height="194.70" fill="none" stroke="#333" stroke-width="1.5"/>
<path d="M82.40 515.90H86.60M82.40 467.22H86.60M82.40 418.55H86.60M82.40 369.88H86.60M82.40 321.20H86.60M84.40 491.56H86.60M84.40 442.89H86.60M84.40 394.21H86.60M84.40 345.54H86.60" stroke="#333" stroke-width="1.4" fill="none"/>
<rect x="424.30" y="321.10" width="243.50" height="194.50" fill="none" stroke="#333" stroke-width="1.5"/>
<path d="M420.10 497.92H424.30M420.10 462.55H424.30M420.10 427.19H424.30M420.10 391.83H424.30M420.10 356.46H424.30M420.10 321.10H424.30M422.10 515.60H424.30M422.10 480.24H424.30M422.10 444.87H424.30M422.10 409.51H424.30M422.10 374.15H424.30M422.10 338.78H424.30M424.30 515.60V519.80M473.00 515.60V519.80M521.70 515.60V519.80M570.40 515.60V519.80M619.10 515.60V519.80M667.80 515.60V519.80M448.65 515.60V517.80M497.35 515.60V517.80M546.05 515.60V517.80M594.75 515.60V517.80M643.45 515.60V517.80" stroke="#333" stroke-width="1.4" fill="none"/>
<text x="78.60" y="272.50" text-anchor="end" font-size="16.8">0</text>
<text x="78.60" y="233.54" text-anchor="end" font-size="16.8">1</text>
<text x="78.60" y="194.58" text-anchor="end" font-size="16.8">2</text>
<text x="78.60" y="155.62" text-anchor="end" font-size="16.8">3</text>
<text x="78.60" y="116.66" text-anchor="end" font-size="16.8">4</text>
<text x="78.60" y="77.70" text-anchor="end" font-size="16.8">5</text>
<text x="86.60" y="287.20" text-anchor="middle" font-size="16.8">0</text>
<text x="135.36" y="287.20" text-anchor="middle" font-size="16.8">20</text>
<text x="184.12" y="287.20" text-anchor="middle" font-size="16.8">40</text>
<text x="232.88" y="287.20" text-anchor="middle" font-size="16.8">60</text>
<text x="281.64" y="287.20" text-anchor="middle" font-size="16.8">80</text>
<text x="330.40" y="287.20" text-anchor="middle" font-size="16.8">100</text>
<text x="416.30" y="272.50" text-anchor="end" font-size="16.8">100</text>
<text x="416.30" y="233.52" text-anchor="end" font-size="16.8">200</text>
<text x="416.30" y="194.54" text-anchor="end" font-size="16.8">300</text>
<text x="416.30" y="155.56" text-anchor="end" font-size="16.8">400</text>
<text x="416.30" y="116.58" text-anchor="end" font-size="16.8">500</text>
<text x="416.30" y="77.60" text-anchor="end" font-size="16.8">600</text>
<text x="424.30" y="285.20" text-anchor="middle" font-size="16.8">0</text>
<text x="473.00" y="285.20" text-anchor="middle" font-size="16.8">20</text>
<text x="521.70" y="285.20" text-anchor="middle" font-size="16.8">40</text>
<text x="570.40" y="285.20" text-anchor="middle" font-size="16.8">60</text>
<text x="619.10" y="285.20" text-anchor="middle" font-size="16.8">80</text>
<text x="667.80" y="285.20" text-anchor="middle" font-size="16.8">100</text>
<text x="78.60" y="521.30" text-anchor="end" font-size="16.8">0</text>
<text x="78.60" y="472.62" text-anchor="end" font-size="16.8">400</text>
<text x="78.60" y="423.95" text-anchor="end" font-size="16.8">800</text>
<text x="78.60" y="375.27" text-anchor="end" font-size="16.8">1200</text>
<text x="78.60" y="326.60" text-anchor="end" font-size="16.8">1600</text>
<text x="86.60" y="534.00" text-anchor="middle" font-size="16.8">0</text>
<text x="135.34" y="534.00" text-anchor="middle" font-size="16.8">20</text>
<text x="184.08" y="534.00" text-anchor="middle" font-size="16.8">40</text>
<text x="232.82" y="534.00" text-anchor="middle" font-size="16.8">60</text>
<text x="281.56" y="534.00" text-anchor="middle" font-size="16.8">80</text>
<text x="330.30" y="534.00" text-anchor="middle" font-size="16.8">100</text>
<text x="416.30" y="503.32" text-anchor="end" font-size="16.8">0</text>
<text x="416.30" y="467.95" text-anchor="end" font-size="16.8">2</text>
<text x="416.30" y="432.59" text-anchor="end" font-size="16.8">4</text>
<text x="416.30" y="397.23" text-anchor="end" font-size="16.8">6</text>
<text x="416.30" y="361.86" text-anchor="end" font-size="16.8">8</text>
<text x="416.30" y="326.50" text-anchor="end" font-size="16.8">10</text>
<text x="424.30" y="536.20" text-anchor="middle" font-size="16.8">0</text>
<text x="473.00" y="536.20" text-anchor="middle" font-size="16.8">20</text>
<text x="521.70" y="536.20" text-anchor="middle" font-size="16.8">40</text>
<text x="570.40" y="536.20" text-anchor="middle" font-size="16.8">60</text>
<text x="619.10" y="536.20" text-anchor="middle" font-size="16.8">80</text>
<text x="667.80" y="536.20" text-anchor="middle" font-size="16.8">100</text>
<text x="34.1" y="72.0" font-size="26.5">A</text>
<text x="365.0" y="72.0" font-size="26.5">B</text>
<text x="33.6" y="308.3" font-size="26.5">C</text>
<text x="365.1" y="308.8" font-size="26.5">D</text>
<text x="212.5" y="569.6" text-anchor="middle" font-size="19">Time (ns)</text>
<text x="549.5" y="569.4" text-anchor="middle" font-size="19">Time (ns)</text>
<text transform="translate(28.4,186.2) rotate(-90)" text-anchor="middle" font-size="19">RMSD (Å)</text>
<text transform="translate(373.3,170.0) rotate(-90)" text-anchor="middle" font-size="19">#Contact atoms</text>
<text transform="translate(29.2,400.0) rotate(-90)" text-anchor="middle" font-size="19">SASA (Å<tspan font-size="12.5" dy="-5.4">2</tspan><tspan dy="5.4">)</tspan></text>
<text transform="translate(379.2,422.0) rotate(-90)" text-anchor="middle" font-size="19">#H-bonds</text>
<path d="M395.5 13.1H436.5" stroke="#525252" stroke-width="2.6"/>
<text x="441.0" y="18.7" font-size="17.2">Prazosin</text>
<path d="M395.5 34.4H436.5" stroke="#416ed9" stroke-width="2.6"/>
<text x="441.0" y="40.4" font-size="17.2">Doxazosin</text>
<path d="M530.8 12.6H571.8" stroke="#d04242" stroke-width="2.6"/>
<text x="576.0" y="19.2" font-size="17.2">Rilpivirine</text>
<path d="M530.8 34.4H571.8" stroke="#69ac6f" stroke-width="2.6"/>
<text x="576.0" y="39.8" font-size="17.2">Nicergoline</text>
</svg></body></html>
